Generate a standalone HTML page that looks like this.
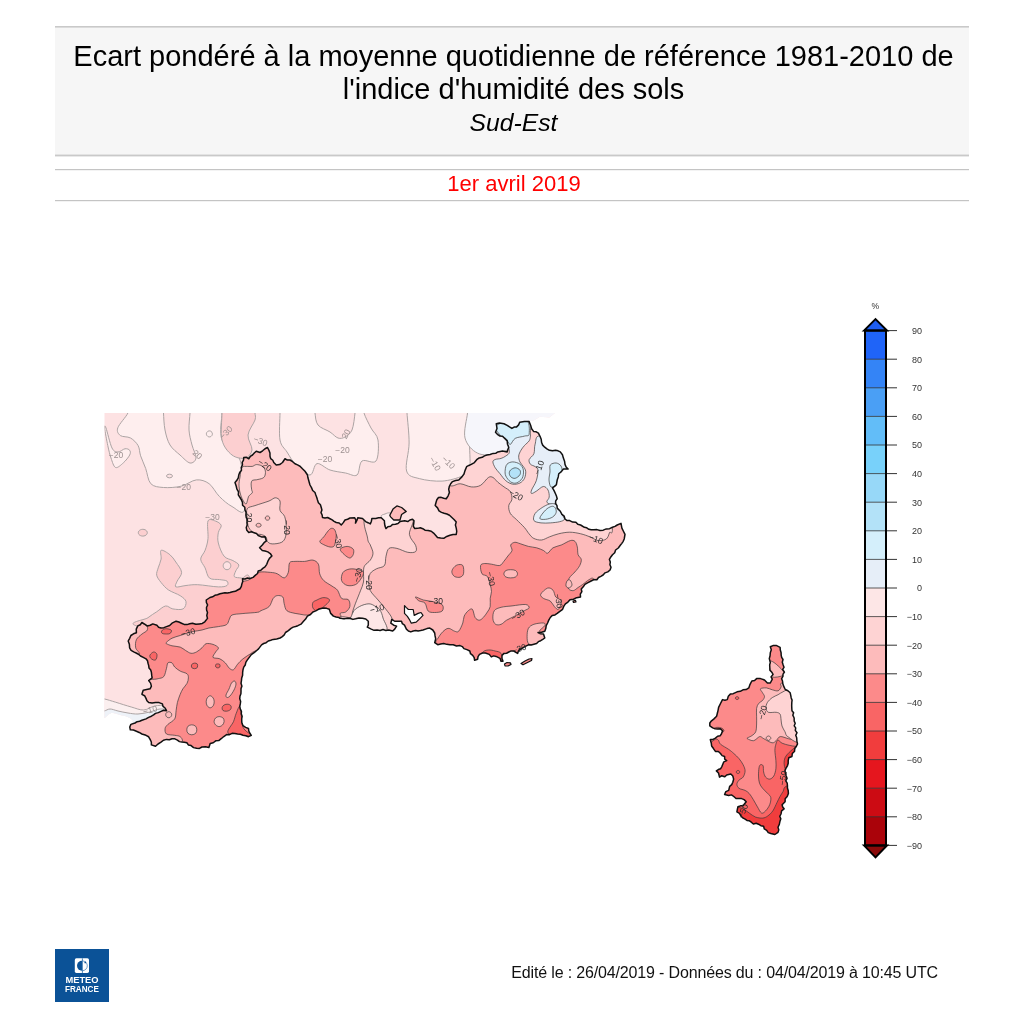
<!DOCTYPE html>
<html><head><meta charset="utf-8"><style>
html,body{margin:0;padding:0;background:#fff;width:1024px;height:1024px;overflow:hidden}
svg{display:block;font-family:"Liberation Sans",sans-serif;will-change:transform}
</style></head><body>
<svg width="1024" height="1024" viewBox="0 0 1024 1024">
<rect x="0" y="0" width="1024" height="1024" fill="#fff"/>
<rect x="55" y="27" width="914" height="128" fill="#f6f6f6"/>
<rect x="55" y="26" width="914" height="1.6" fill="#c9c9c9"/>
<rect x="55" y="154.6" width="914" height="1.8" fill="#c9c9c9"/>
<rect x="55" y="169" width="914" height="1.2" fill="#c4c4c4"/>
<rect x="55" y="200" width="914" height="1.2" fill="#c4c4c4"/>
<text x="513.5" y="65.8" text-anchor="middle" font-size="29" fill="#000">Ecart pondéré à la moyenne quotidienne de référence 1981-2010 de</text>
<text x="513.5" y="98.8" text-anchor="middle" font-size="29" fill="#000">l'indice d'humidité des sols</text>
<text x="513.5" y="131.2" text-anchor="middle" font-size="24.7" font-style="italic" fill="#000">Sud-Est</text>
<text x="514" y="191.2" text-anchor="middle" font-size="22" fill="#f00">1er avril 2019</text>
<defs><clipPath id="cm"><polygon points="130.9,724.4 135,723 137.13,721.66 139.63,721.27 141.9,720.3 146,718.9 148.6,717.34 151.4,716.2 153.56,714.95 155.5,713.4 158.33,712.61 161,711.4 163.65,710.27 166.5,710.7 165.1,708 163.02,706.43 162.4,703.9 159.07,702.6 155.5,702.5 152.1,702.93 148.7,702.5 146.95,700.71 146,698.4 144.58,695.72 141.9,694.3 143.2,690.2 146.64,689.45 150.1,688.8 151.4,686.1 150.59,683.08 148.7,680.6 152.1,677.9 151.71,675.16 151.4,672.4 150.73,670.04 149.02,668.1 148.7,665.6 148.03,663.24 147.52,660.82 146,658.8 143.27,657.36 140.5,656 138.46,654.26 136.13,653 133.7,651.9 131.1,650.4 129.6,647.8 129.36,644.31 128.2,641 129.7,638.32 130.9,635.5 133.49,633.83 136.4,632.8 136.27,629.18 137.8,625.9 140.27,624.71 141.9,622.5 144.63,624.16 147.3,625.9 150.18,625.27 152.8,623.9 156.9,625.3 158.57,627.22 161,628 163.85,627.67 166.5,626.6 169.65,625.54 172,623.2 176.1,621.2 178.87,622.02 181.5,623.2 184.12,624.42 187,624.6 189.73,623.8 192.5,623.2 195.82,624.33 199.3,623.9 202.29,623.49 204.8,621.8 207.5,618.4 206.78,615.45 207.5,612.5 206.6,610.07 206.49,607.55 207.58,604.92 206.39,602.51 206.25,600 210,597.5 212.58,596.78 214.87,595.29 217.5,594.7 220,593.75 222.47,593.23 224.97,592.86 227.52,592.96 230,592.5 232.55,591.7 235.26,591.31 237.62,589.99 240,588.75 241.37,586.44 241.87,583.91 242.73,581.46 242.5,578.75 245.01,578.97 247.48,577.98 250,578.5 253.09,577.35 255.5,575.1 257.55,573.51 258.2,571 260.84,570.26 262.8,568.37 265,566.9 266.74,564.32 267.8,561.4 269.44,558.39 271.9,556 270.27,553.53 267.8,551.9 265.08,551.07 262.3,550.5 259.6,547.8 262.3,545 264.08,542.68 266.4,540.9 265,536.8 261.45,536.92 258.2,535.5 256.51,533.57 254.1,532.7 251.46,531.72 248.75,532.5 246.84,530.33 246.25,527.5 247.2,525.09 246.92,522.47 247.5,520 246.27,517.65 245.89,515.09 246.09,512.38 245,510 244.8,507.29 242.55,505.26 242.5,502.5 241.43,499.91 240,497.5 238.29,494.95 238.5,491.75 236.9,489.16 236.25,486.25 235,482.5 236.86,480.31 238.27,477.89 238.75,475 239.7,472.5 241.47,470.32 241.24,467.38 242.5,465 242.17,462.37 243.51,460.03 243.75,457.5 246.45,457.31 248.75,458.75 250.24,456.49 252.5,455 254.26,453.01 256.25,451.25 260,452.5 262.62,450.78 265,448.75 267.5,447.5 268.93,450.25 269.96,453.11 270,456.25 270.68,458.67 272.79,460.24 273.75,462.5 276.25,465 279.68,464.52 282.5,462.5 285,458.75 287.33,460.07 290,460 292.63,461.7 295,463.75 297.53,464.94 300,466.25 302.47,468.78 305,471.25 307.5,475 307.87,477.56 308.58,480.04 309.27,482.53 310,485 311.49,487.62 312.67,490.44 315,492.5 315.82,495 316.78,497.46 317.5,500 318.4,502.68 320.42,504.79 321.25,507.5 321.92,509.96 321.02,512.61 322.15,515 322.5,517.5 324.99,518 327.64,517.47 330,518.75 332.16,519.87 334.09,521.37 336.25,522.5 339.14,522.98 341.25,525 343.29,522.63 345,520 347.59,519.22 350,518 354.7,517.7 355.88,520.28 355.5,523.1 356.86,520.49 357.8,517.7 362.5,518.4 365.6,521.6 367.98,522.7 370.3,523.9 371.41,521.24 371.9,518.4 375.8,518.4 378.49,517.79 381.25,517.7 384.4,520.8 384.53,523.47 384.98,526.08 385.9,528.6 387.87,526.66 390.6,526.25 392.6,524.38 395.44,524.21 398.02,523.51 400,521.6 404.7,520.8 407.8,521.6 409.95,520 412.5,519.2 414,520.8 413.73,523.54 413.3,526.25 414.8,528.6 417.57,528.37 420.3,527.8 422.8,528.71 425,530.2 428.17,530.48 431.25,531.25 433.57,533.09 435.58,535.25 437.5,537.5 440.6,538.07 443.75,538.3 446.72,536.43 450,535.2 453.1,534.58 456.25,534.4 456.74,531.25 456.25,528.1 455.4,525 456.25,521.9 454.01,519.46 451.6,517.2 449.49,515.25 446.9,514 444.14,513.29 441.45,512.4 439,510.9 437.55,507.89 435.2,505.5 436,502.5 436.83,499.79 438.5,497.5 441.17,497.36 443.69,498.22 446.25,498.75 448.14,495.79 449.4,492.5 448.68,489.38 449.4,486.25 450.68,483.75 452.5,481.6 455.55,480.51 458.75,480 461.9,476.9 463.99,474.02 465,470.6 466.6,466.7 468.88,465.45 471.25,464.4 474.39,462.53 476.7,459.7 479.21,457.95 482.2,457.3 484.42,455.89 486.9,455 490.07,454.46 493.1,453.4 495.66,453.31 497.8,451.9 502.5,451.1 507.2,451.9 507.89,449.52 508.75,447.2 507.49,444.17 507.2,440.9 504,437.8 502.5,436.25 499.94,436.12 497.8,434.7 495.5,432.3 497,428.4 496.25,423.75 499.4,423 504,423.75 507.2,425.3 509.52,426.89 511.9,428.4 514.08,427.12 516.6,426.9 518.61,424.85 519.7,422.2 524.4,421.4 529,421.4 530.6,425.3 531.63,428.72 533.75,431.6 536.25,431.81 538.4,433.1 540,436.25 541.19,439.28 541.6,442.5 542.69,445.15 544.7,447.2 546.91,448.96 549.4,450.3 552.5,450.85 555.6,450.3 558.04,450.84 560.3,451.9 562.45,454.7 563.4,458.1 564.56,461.16 565,464.4 566.11,467 568.1,469 563.4,469 561.37,471.66 558.75,473.75 558.24,476.94 557.2,480 556.4,484.7 554.54,486.37 552.5,487.8 554.18,490.84 555.6,494 556.55,496.32 557.2,498.75 555.68,500.83 555.6,503.4 556.99,505.55 557.2,508.1 560.3,511.25 561.9,514.4 564.19,516.2 565,519 567.09,520.56 569.7,520.6 572.63,522.06 575.9,522.2 577.8,524.35 580.6,525 584.4,527.3 586.77,527.79 588.87,529.28 591.22,529.85 593.75,529.7 596.94,529.6 600,530.5 603.23,530.13 606.25,528.9 609.53,528.69 612.5,527.3 614.98,526.41 617.2,525 621,523.4 621.9,528.1 623.42,531.27 625,534.4 624.2,539 623.22,541.3 621.84,543.35 620.3,545.3 618.3,548 615.6,550 614.7,552.78 612.5,554.7 610.82,556.96 609.4,559.4 610.31,561.92 609.92,564.71 611,567.2 610.08,570.01 607.8,571.9 605.05,572.84 603.1,575 600.82,576.29 598.51,577.53 596.9,579.7 593.58,579.78 590.6,581.25 587.5,582.8 584.91,584.36 583.24,586.83 581.25,589 581.87,591.72 580.31,594.22 580.5,596.9 576.6,597.7 573.47,599.27 570,599.7 567.94,602.02 565.4,603.8 563.74,606.42 562.6,609.3 559.87,611.31 557.2,613.4 554.98,614.9 552.2,615.45 550.3,617.5 548.77,620.16 547.6,623 546.2,625.7 545.78,628.52 544.8,631.2 541.48,632.29 538,632.5 540.59,633.83 543.5,633.9 544.8,638 542.77,639.38 540.7,640.7 538.36,641.68 536.6,643.5 533.91,644.2 531.22,644.9 528.4,644.8 525.42,646.35 522.5,648 518.6,650.5 517.6,653.4 513.7,651 511.14,650.94 508.8,652 506.57,653.27 504,653.4 502,655.4 501.98,658.41 503,661.25 501,661.25 500,658.3 496.1,656.4 493.62,655.89 491.3,656.9 489.3,654.4 485.4,653 482.5,653 479.5,654.4 478.04,656.65 477.6,659.3 474.6,660.3 474.19,657.64 472.7,655.4 470.51,653.69 469.8,651 466.94,649.59 463.9,648.6 462.35,646.58 460,645.6 456.51,646 453.2,644.8 449.98,644.77 446.81,644.35 443.7,643.5 440.69,644.05 437.7,644.7 434.7,642.7 435.7,638.8 435.06,635.92 434.7,633 432.8,630 429.8,628.1 426.9,628.6 423,630 420.56,630.55 418.1,631 415.65,630.5 413.2,631 410.8,631.9 408.4,631 406.4,629.1 404.5,625.2 402.36,623.71 401.5,621.25 398.6,621.25 394.7,621.25 391.8,619.3 390.8,623.2 393.7,625.2 396.6,626.1 394.7,629.1 392.7,631 388.8,630 385.85,630.44 383,629.55 380.1,630.45 377.1,630 374.06,630.32 371.25,629.1 367.3,627.1 368.3,625.2 368.3,621.25 365.79,619.01 362.5,618.3 359,617.91 355.6,618.8 352.95,619.38 350.4,618.46 347.8,618.3 345.2,618.63 342.6,618.63 340,618.3 338.9,617.5 336.08,617.06 333.4,616.1 330.7,613.4 329.3,609.3 326.62,608.34 323.8,607.9 321.06,608.45 318.4,609.3 315.76,610.87 312.9,612 310.48,614.5 307.4,616.1 305.6,619.03 303.3,621.6 301.01,624.19 297.9,625.7 295.56,626.51 293.16,627.14 291,628.4 288.38,630.62 285.5,632.5 284.24,634.86 282.31,636.57 280.1,638 276.7,638.92 273.2,639.4 270.75,640.25 268.25,640.98 266.16,642.67 263.7,643.5 261.57,644.87 260.04,646.84 258.54,648.84 256.7,650.5 254.14,652.73 251.3,654.6 249.26,657.35 247.2,660.1 245.82,662.35 245.23,664.96 243.73,667.16 243,669.7 242.64,672.44 242.59,675.24 241.7,677.9 241.46,680.62 241,683.33 241.94,686.12 241,688.8 241.02,691.32 240.9,693.84 239.97,696.32 239.75,698.83 240.64,701.39 240.3,703.9 239.82,706.47 240.25,708.95 241.43,711.36 241.3,713.89 242.14,716.34 241.7,718.9 241.8,722.41 243,725.7 245.62,727.36 248.5,728.5 248.79,731.03 249.88,733.23 251.3,735.3 248.5,736.7 245.82,735.71 243,735.3 240.4,734.24 237.6,734 234.86,733.54 232.1,733.3 229.51,734.65 226.6,734.6 223.8,736.52 221.2,738.7 218.77,740.58 215.7,740.8 213.23,742.73 210.2,743.5 208.9,747.6 205.49,746.81 202,747 199.49,748.45 196.6,748.3 193.53,747.61 191.1,745.6 188.51,745.11 186.87,742.72 184.3,742.2 181.83,742.05 179.45,741.62 177.4,740.1 174.85,738.8 172,738.7 169.34,739.73 166.5,739.4 163.47,740.25 161,742.2 158.06,744 155.5,746.3 151.4,744.9 151.34,742.01 150.1,739.4 148.63,736.77 146,735.3 141.9,734 139.21,732.47 136.4,731.2 133.47,729.98 130.3,729.8 129.77,727.01"/></clipPath><clipPath id="cc"><polygon points="770.3,646.8 773,645.6 776.2,645.4 780.1,647.3 780.31,650.05 781.1,652.7 781.17,655.12 781.68,657.42 783,659.5 782.28,662.24 783.1,664.77 784,667.3 782.66,669.45 784.45,672.06 783,674.2 782.92,676.47 781.61,678.66 782.5,681 782.9,684.04 784,686.9 785.27,689.53 787.9,690.8 790.15,692.78 790.8,695.7 791.21,697.96 792.07,700.14 791.8,702.5 791.69,705.45 791.8,708.4 791.96,710.69 793.62,712.76 792.8,715.2 794.16,717.99 794.2,721.1 795.22,723.25 794.22,725.85 795.7,727.9 795.32,730.41 797.01,732.72 795.74,735.32 796.7,737.7 796.9,741.2 797.51,743.83 796.4,746.3 794.79,748.56 794.45,751.54 792.3,753.5 791.97,756.46 788.79,757.79 788.2,760.6 788.21,763.19 787.52,765.58 786.2,767.8 785.04,770.53 785.31,773.27 786.2,776 787.03,778.33 785.77,780.95 787.2,783.2 787.44,785.61 787.44,788.06 788.2,790.4 788.4,793.56 787.2,796.5 785.17,798.7 785.1,801.7 782.1,804.7 782.69,806.95 784.1,808.8 781.59,810.83 781,814 779.73,816.27 780.81,818.87 780,821.2 779.32,824.35 778,827.3 778.8,829.85 778,832.4 774.9,834.5 770.8,833.5 768.24,832.63 766.7,830.4 764.32,828.98 763.6,826.3 760.87,825.69 758.5,824.2 756.17,823.29 753.38,824.02 751.3,822.2 749.42,820.78 746.99,820.48 745.1,819.1 742.77,817.91 741,816 739.49,813.41 736.9,811.9 737.35,809.34 737.9,806.8 740.42,805.87 743.1,805.8 744.61,803.72 746.2,801.7 744.1,799.6 741.64,798.62 739,798.6 736,798.54 733.8,796.5 731.47,794.88 728.7,795.5 724.6,794.5 725.84,791.64 728.7,790.4 729.7,786.3 731.73,784.61 732.8,782.2 733.63,779.1 732.8,776 730.8,774 726.7,775 724.62,776.81 721.71,775.74 719.5,777.1 718.5,773 716.4,770.9 718.3,769.56 720.5,768.8 721.72,766.84 722.6,764.7 723.82,761.82 726.7,760.6 724.68,759.05 724.6,756.5 722.1,755.62 720.5,753.5 718.37,751.44 715.4,751.4 713.3,748.3 711.62,746.02 711.3,743.2 710.3,739.6 713.02,739.44 715.4,738.1 717.6,736.2 720.1,735.85 721.5,733.75 722.5,730.8 720.43,728.86 717.6,728.9 715.08,728.77 712.7,727.9 709.8,725.9 709.8,723 711.5,720.8 713.7,719.1 716.6,716.2 717.6,712.3 718.16,709.86 718.6,707.4 720.5,703.5 722.5,699.6 724.9,700.26 727.3,699.6 728.3,696.2 730.32,694.11 733.2,693.7 737.1,691.8 740.24,691.36 743,689.8 746.12,689.53 748.8,687.9 749.8,684.9 751.8,681 754.59,680.57 756.6,678.6 760.5,678.6 764.5,680 767.4,683 770.3,683 772.3,679.1 771.02,676.88 773.03,674.42 771.8,672.2 769.89,670.12 769.8,667.3 769.67,664.86 770.3,662.5 769.3,658.6 770.06,655.69 770.3,652.7 771.3,649.75"/></clipPath></defs><polygon points="104.5,413 555,413 549.4,417.5 540,416.7 533.75,420.6 529,421.4 530,480 470,560 300,600 220,640 175,700 168,712 150,716 141.9,720.3 135,723 130.9,724.4 133,720.6 130,718 125,716 120,715 115.6,713.5 111.7,712.8 108.6,714.4 104.5,718.3" fill="#fde2e3" /><clipPath id="cf"><polygon points="104.5,413 555,413 549.4,417.5 540,416.7 533.75,420.6 529,421.4 530,480 470,560 300,600 220,640 175,700 168,712 150,716 141.9,720.3 135,723 130.9,724.4 133,720.6 130,718 125,716 120,715 115.6,713.5 111.7,712.8 108.6,714.4 104.5,718.3"/></clipPath><g clip-path="url(#cf)"><path d="M127.90,405.00C112.22,406.33 129.58,409.20 127.90,413.00C126.22,416.80 119.07,424.05 117.80,427.80C116.53,431.55 118.18,433.80 120.30,435.50C122.42,437.20 127.53,436.32 130.50,438.00C133.47,439.68 136.42,442.63 138.10,445.60C139.78,448.57 139.33,451.98 140.60,455.80C141.87,459.62 144.00,463.85 145.70,468.50C147.40,473.15 147.83,480.53 150.80,483.70C153.77,486.87 158.43,487.08 163.50,487.50C168.57,487.92 175.72,487.47 181.20,486.20C186.68,484.93 191.75,480.32 196.40,479.90C201.05,479.48 205.28,480.95 209.10,483.70C212.92,486.45 215.48,492.60 219.30,496.40C223.12,500.20 227.77,504.38 232.00,506.50C236.23,508.62 243.37,516.85 244.70,509.10C246.03,501.35 243.78,471.52 240.00,460.00C236.22,448.48 225.00,447.83 222.00,440.00C219.00,432.17 222.00,418.83 222.00,413.00C222.00,407.17 237.68,406.33 222.00,405.00C206.32,403.67 143.58,403.67 127.90,405.00Z" fill="#feeeee" stroke="#aba3a3" stroke-width="1.0" stroke-linejoin="round"/><path d="M280.00,405.00C266.00,406.33 280.00,407.17 280.00,413.00C280.00,418.83 278.83,433.50 280.00,440.00C281.17,446.50 284.33,447.83 287.00,452.00C289.67,456.17 292.17,461.17 296.00,465.00C299.83,468.83 306.50,475.23 310.00,475.00C313.50,474.77 313.67,464.43 317.00,463.60C320.33,462.77 325.25,468.43 330.00,470.00C334.75,471.57 341.00,472.17 345.50,473.00C350.00,473.83 354.25,477.00 357.00,475.00C359.75,473.00 358.83,463.33 362.00,461.00C365.17,458.67 373.33,464.50 376.00,461.00C378.67,457.50 378.83,445.50 378.00,440.00C377.17,434.50 373.33,432.50 371.00,428.00C368.67,423.50 365.17,416.83 364.00,413.00C362.83,409.17 378.00,406.33 364.00,405.00C350.00,403.67 294.00,403.67 280.00,405.00Z" fill="#feeeee" stroke="#aba3a3" stroke-width="1.0" stroke-linejoin="round"/><path d="M315.00,405.00C308.33,406.33 314.50,409.67 315.00,413.00C315.50,416.33 315.50,421.83 318.00,425.00C320.50,428.17 326.67,429.83 330.00,432.00C333.33,434.17 335.50,437.17 338.00,438.00C340.50,438.83 342.67,438.33 345.00,437.00C347.33,435.67 350.33,434.00 352.00,430.00C353.67,426.00 354.50,417.17 355.00,413.00C355.50,408.83 361.67,406.33 355.00,405.00C348.33,403.67 321.67,403.67 315.00,405.00Z" fill="#fde2e3" stroke="#aba3a3" stroke-width="1.0" stroke-linejoin="round"/><path d="M163.50,405.00C159.08,406.33 163.25,408.83 163.50,413.00C163.75,417.17 163.92,424.67 165.00,430.00C166.08,435.33 167.50,440.83 170.00,445.00C172.50,449.17 176.67,452.00 180.00,455.00C183.33,458.00 187.33,462.50 190.00,463.00C192.67,463.50 195.67,461.00 196.00,458.00C196.33,455.00 193.17,449.67 192.00,445.00C190.83,440.33 189.33,435.33 189.00,430.00C188.67,424.67 189.83,417.17 190.00,413.00C190.17,408.83 194.42,406.33 190.00,405.00C185.58,403.67 167.92,403.67 163.50,405.00Z" fill="#fde2e3" stroke="#aba3a3" stroke-width="1.0" stroke-linejoin="round"/><path d="M222.00,405.00C216.50,406.33 222.00,407.17 222.00,413.00C222.00,418.83 220.33,433.00 222.00,440.00C223.67,447.00 228.17,452.00 232.00,455.00C235.83,458.00 241.67,458.83 245.00,458.00C248.33,457.17 251.50,453.83 252.00,450.00C252.50,446.17 247.50,440.00 248.00,435.00C248.50,430.00 253.83,423.67 255.00,420.00C256.17,416.33 255.00,415.50 255.00,413.00C255.00,410.50 260.50,406.33 255.00,405.00C249.50,403.67 227.50,403.67 222.00,405.00Z" fill="#fccfd0" stroke="#aba3a3" stroke-width="1.0" stroke-linejoin="round"/><path d="M407.00,405.00C396.92,406.33 406.65,406.67 407.00,413.00C407.35,419.33 409.17,433.33 409.10,443.00C409.03,452.67 404.90,465.07 406.60,471.00C408.30,476.93 413.38,476.92 419.30,478.60C425.22,480.28 434.92,481.52 442.10,481.10C449.28,480.68 457.75,477.95 462.40,476.10C467.05,474.25 469.15,480.52 470.00,470.00C470.85,459.48 467.92,423.83 467.50,413.00C467.08,402.17 477.58,406.33 467.50,405.00C457.42,403.67 417.08,403.67 407.00,405.00Z" fill="#feeeee" stroke="#aba3a3" stroke-width="1.0" stroke-linejoin="round"/><path d="M161.10,550.30C162.57,549.57 167.45,552.75 169.90,554.70C172.35,556.65 173.85,559.07 175.80,562.00C177.75,564.93 181.37,569.12 181.60,572.30C181.83,575.48 178.17,578.67 177.20,581.10C176.23,583.53 174.33,586.17 175.80,586.90C177.27,587.63 182.35,585.87 186.00,585.50C189.65,585.13 192.32,584.47 197.70,584.70C203.08,584.93 213.42,586.77 218.30,586.90C223.18,587.03 225.55,586.47 227.00,585.50C228.45,584.53 228.22,582.08 227.00,581.10C225.78,580.12 222.62,580.10 219.70,579.60C216.78,579.10 211.93,580.05 209.50,578.10C207.07,576.15 206.57,571.07 205.10,567.90C203.63,564.73 200.70,562.03 200.70,559.10C200.70,556.17 203.88,553.72 205.10,550.30C206.32,546.88 207.52,543.48 208.00,538.60C208.48,533.72 206.78,523.93 208.00,521.00C209.22,518.07 213.10,520.27 215.30,521.00C217.50,521.73 220.70,523.45 221.20,525.40C221.70,527.35 218.78,529.77 218.30,532.70C217.82,535.63 217.33,539.08 218.30,543.00C219.27,546.92 221.67,553.27 224.10,556.20C226.53,559.13 230.45,559.13 232.90,560.60C235.35,562.07 238.32,563.30 238.80,565.00C239.28,566.70 236.53,568.85 235.80,570.80C235.07,572.75 233.42,575.48 234.40,576.70C235.38,577.92 239.10,577.55 241.70,578.10C244.30,578.65 248.62,569.68 250.00,580.00C251.38,590.32 268.47,632.25 250.00,640.00C231.53,647.75 156.20,630.22 139.20,626.50C122.20,622.78 145.08,620.15 148.00,617.70C150.92,615.25 153.78,613.75 156.70,611.80C159.62,609.85 162.82,606.48 165.50,606.00C168.18,605.52 169.87,608.42 172.80,608.90C175.73,609.38 180.90,610.12 183.10,608.90C185.30,607.68 186.48,603.80 186.00,601.60C185.52,599.40 183.13,597.65 180.20,595.70C177.27,593.75 171.58,592.10 168.40,589.90C165.22,587.70 163.05,584.95 161.10,582.50C159.15,580.05 157.18,577.63 156.70,575.20C156.22,572.77 157.47,570.58 158.20,567.90C158.93,565.22 160.62,562.03 161.10,559.10C161.58,556.17 159.63,551.03 161.10,550.30Z" fill="#fccfd0" stroke="#aba3a3" stroke-width="1.0" stroke-linejoin="round"/><path d="M230.80,565.70C230.80,566.37 230.61,567.12 230.29,567.70C229.97,568.28 229.45,568.83 228.90,569.16C228.35,569.49 227.63,569.70 227.00,569.70C226.37,569.70 225.65,569.49 225.10,569.16C224.55,568.83 224.03,568.28 223.71,567.70C223.39,567.12 223.20,566.37 223.20,565.70C223.20,565.03 223.39,564.28 223.71,563.70C224.03,563.12 224.55,562.57 225.10,562.24C225.65,561.91 226.37,561.70 227.00,561.70C227.63,561.70 228.35,561.91 228.90,562.24C229.45,562.57 229.97,563.12 230.29,563.70C230.61,564.28 230.80,565.03 230.80,565.70Z" fill="#fde2e3" stroke="#aba3a3" stroke-width="1.0" stroke-linejoin="round"/><path d="M147.30,532.70C147.30,533.27 147.07,533.91 146.70,534.40C146.32,534.89 145.70,535.36 145.05,535.64C144.40,535.92 143.55,536.10 142.80,536.10C142.05,536.10 141.20,535.92 140.55,535.64C139.90,535.36 139.28,534.89 138.90,534.40C138.53,533.91 138.30,533.27 138.30,532.70C138.30,532.13 138.53,531.49 138.90,531.00C139.28,530.51 139.90,530.04 140.55,529.76C141.20,529.48 142.05,529.30 142.80,529.30C143.55,529.30 144.40,529.48 145.05,529.76C145.70,530.04 146.32,530.51 146.70,531.00C147.07,531.49 147.30,532.13 147.30,532.70Z" fill="#fccfd0" stroke="#aba3a3" stroke-width="1.0" stroke-linejoin="round"/><path d="M212.40,433.90C212.40,434.40 212.25,434.97 212.00,435.40C211.75,435.83 211.33,436.25 210.90,436.50C210.47,436.75 209.90,436.90 209.40,436.90C208.90,436.90 208.33,436.75 207.90,436.50C207.47,436.25 207.05,435.83 206.80,435.40C206.55,434.97 206.40,434.40 206.40,433.90C206.40,433.40 206.55,432.83 206.80,432.40C207.05,431.97 207.47,431.55 207.90,431.30C208.33,431.05 208.90,430.90 209.40,430.90C209.90,430.90 210.47,431.05 210.90,431.30C211.33,431.55 211.75,431.97 212.00,432.40C212.25,432.83 212.40,433.40 212.40,433.90Z" fill="#feeeee" stroke="#aba3a3" stroke-width="1.0" stroke-linejoin="round"/><path d="M172.50,476.00C172.50,476.30 172.35,476.64 172.10,476.90C171.85,477.16 171.43,477.41 171.00,477.56C170.57,477.71 170.00,477.80 169.50,477.80C169.00,477.80 168.43,477.71 168.00,477.56C167.57,477.41 167.15,477.16 166.90,476.90C166.65,476.64 166.50,476.30 166.50,476.00C166.50,475.70 166.65,475.36 166.90,475.10C167.15,474.84 167.57,474.59 168.00,474.44C168.43,474.29 169.00,474.20 169.50,474.20C170.00,474.20 170.57,474.29 171.00,474.44C171.43,474.59 171.85,474.84 172.10,475.10C172.35,475.36 172.50,475.70 172.50,476.00Z" fill="#fde2e3" stroke="#aba3a3" stroke-width="1.0" stroke-linejoin="round"/><path d="M381.00,517.00C381.00,514.50 383.50,514.67 385.00,514.00C386.50,513.33 388.17,512.50 390.00,513.00C391.83,513.50 394.33,515.67 396.00,517.00C397.67,518.33 400.67,519.33 400.00,521.00C399.33,522.67 394.50,525.67 392.00,527.00C389.50,528.33 386.83,530.67 385.00,529.00C383.17,527.33 381.00,519.50 381.00,517.00Z" fill="#feeeee" stroke="#aba3a3" stroke-width="1.0" stroke-linejoin="round"/><path d="M104.70,428.40C105.00,431.33 106.75,440.67 107.80,445.60C108.85,450.53 109.70,454.35 111.00,458.00C112.30,461.65 113.53,466.70 115.60,467.50C117.67,468.30 121.05,464.88 123.40,462.80C125.75,460.72 128.65,457.08 129.70,455.00C130.75,452.92 130.48,451.34 129.70,450.30C128.92,449.26 126.95,448.47 125.00,448.75C123.05,449.03 120.17,452.12 118.00,452.00C115.83,451.88 114.00,452.00 112.00,448.00C110.00,444.00 107.22,431.27 106.00,428.00C104.78,424.73 104.40,425.47 104.70,428.40Z" fill="#feeeee" stroke="#aba3a3" stroke-width="1.0" stroke-linejoin="round"/><path d="M467.50,405.00C449.58,406.33 467.92,407.50 467.50,413.00C467.08,418.50 463.30,431.30 465.00,438.00C466.70,444.70 472.20,450.67 477.70,453.20C483.20,455.73 489.28,455.40 498.00,453.20C506.72,451.00 519.67,444.70 530.00,440.00C540.33,435.30 552.50,430.83 560.00,425.00C567.50,419.17 590.42,408.33 575.00,405.00C559.58,401.67 485.42,403.67 467.50,405.00Z" fill="#f6f6fb" stroke="#aba3a3" stroke-width="1.0" stroke-linejoin="round"/><path d="M98.00,698.00C99.12,692.83 101.77,698.30 104.70,699.00C107.63,699.70 111.17,700.87 115.60,702.20C120.02,703.53 126.56,705.70 131.25,707.00C135.94,708.30 139.84,710.17 143.75,710.00C147.66,709.83 151.06,706.67 154.70,706.00C158.34,705.33 162.72,705.00 165.60,706.00C168.48,707.00 174.60,710.00 172.00,712.00C169.40,714.00 155.33,715.00 150.00,718.00C144.67,721.00 148.67,728.00 140.00,730.00C131.33,732.00 105.00,735.33 98.00,730.00C91.00,724.67 96.88,703.17 98.00,698.00Z" fill="#fbefef" stroke="#aba3a3" stroke-width="1.0" stroke-linejoin="round"/><path d="M98.00,710.00C99.00,706.83 102.00,711.17 104.00,711.00C106.00,710.83 107.67,709.00 110.00,709.00C112.33,709.00 115.00,710.33 118.00,711.00C121.00,711.67 124.67,712.50 128.00,713.00C131.33,713.50 134.33,714.17 138.00,714.00C141.67,713.83 146.33,712.83 150.00,712.00C153.67,711.17 156.67,709.17 160.00,709.00C163.33,708.83 171.67,709.50 170.00,711.00C168.33,712.50 155.00,714.83 150.00,718.00C145.00,721.17 148.67,728.00 140.00,730.00C131.33,732.00 105.00,733.33 98.00,730.00C91.00,726.67 97.00,713.17 98.00,710.00Z" fill="#eef2f8" stroke="#aba3a3" stroke-width="1.0" stroke-linejoin="round"/></g><g clip-path="url(#cm)"><polygon points="130.9,724.4 135,723 137.13,721.66 139.63,721.27 141.9,720.3 146,718.9 148.6,717.34 151.4,716.2 153.56,714.95 155.5,713.4 158.33,712.61 161,711.4 163.65,710.27 166.5,710.7 165.1,708 163.02,706.43 162.4,703.9 159.07,702.6 155.5,702.5 152.1,702.93 148.7,702.5 146.95,700.71 146,698.4 144.58,695.72 141.9,694.3 143.2,690.2 146.64,689.45 150.1,688.8 151.4,686.1 150.59,683.08 148.7,680.6 152.1,677.9 151.71,675.16 151.4,672.4 150.73,670.04 149.02,668.1 148.7,665.6 148.03,663.24 147.52,660.82 146,658.8 143.27,657.36 140.5,656 138.46,654.26 136.13,653 133.7,651.9 131.1,650.4 129.6,647.8 129.36,644.31 128.2,641 129.7,638.32 130.9,635.5 133.49,633.83 136.4,632.8 136.27,629.18 137.8,625.9 140.27,624.71 141.9,622.5 144.63,624.16 147.3,625.9 150.18,625.27 152.8,623.9 156.9,625.3 158.57,627.22 161,628 163.85,627.67 166.5,626.6 169.65,625.54 172,623.2 176.1,621.2 178.87,622.02 181.5,623.2 184.12,624.42 187,624.6 189.73,623.8 192.5,623.2 195.82,624.33 199.3,623.9 202.29,623.49 204.8,621.8 207.5,618.4 206.78,615.45 207.5,612.5 206.6,610.07 206.49,607.55 207.58,604.92 206.39,602.51 206.25,600 210,597.5 212.58,596.78 214.87,595.29 217.5,594.7 220,593.75 222.47,593.23 224.97,592.86 227.52,592.96 230,592.5 232.55,591.7 235.26,591.31 237.62,589.99 240,588.75 241.37,586.44 241.87,583.91 242.73,581.46 242.5,578.75 245.01,578.97 247.48,577.98 250,578.5 253.09,577.35 255.5,575.1 257.55,573.51 258.2,571 260.84,570.26 262.8,568.37 265,566.9 266.74,564.32 267.8,561.4 269.44,558.39 271.9,556 270.27,553.53 267.8,551.9 265.08,551.07 262.3,550.5 259.6,547.8 262.3,545 264.08,542.68 266.4,540.9 265,536.8 261.45,536.92 258.2,535.5 256.51,533.57 254.1,532.7 251.46,531.72 248.75,532.5 246.84,530.33 246.25,527.5 247.2,525.09 246.92,522.47 247.5,520 246.27,517.65 245.89,515.09 246.09,512.38 245,510 244.8,507.29 242.55,505.26 242.5,502.5 241.43,499.91 240,497.5 238.29,494.95 238.5,491.75 236.9,489.16 236.25,486.25 235,482.5 236.86,480.31 238.27,477.89 238.75,475 239.7,472.5 241.47,470.32 241.24,467.38 242.5,465 242.17,462.37 243.51,460.03 243.75,457.5 246.45,457.31 248.75,458.75 250.24,456.49 252.5,455 254.26,453.01 256.25,451.25 260,452.5 262.62,450.78 265,448.75 267.5,447.5 268.93,450.25 269.96,453.11 270,456.25 270.68,458.67 272.79,460.24 273.75,462.5 276.25,465 279.68,464.52 282.5,462.5 285,458.75 287.33,460.07 290,460 292.63,461.7 295,463.75 297.53,464.94 300,466.25 302.47,468.78 305,471.25 307.5,475 307.87,477.56 308.58,480.04 309.27,482.53 310,485 311.49,487.62 312.67,490.44 315,492.5 315.82,495 316.78,497.46 317.5,500 318.4,502.68 320.42,504.79 321.25,507.5 321.92,509.96 321.02,512.61 322.15,515 322.5,517.5 324.99,518 327.64,517.47 330,518.75 332.16,519.87 334.09,521.37 336.25,522.5 339.14,522.98 341.25,525 343.29,522.63 345,520 347.59,519.22 350,518 354.7,517.7 355.88,520.28 355.5,523.1 356.86,520.49 357.8,517.7 362.5,518.4 365.6,521.6 367.98,522.7 370.3,523.9 371.41,521.24 371.9,518.4 375.8,518.4 378.49,517.79 381.25,517.7 384.4,520.8 384.53,523.47 384.98,526.08 385.9,528.6 387.87,526.66 390.6,526.25 392.6,524.38 395.44,524.21 398.02,523.51 400,521.6 404.7,520.8 407.8,521.6 409.95,520 412.5,519.2 414,520.8 413.73,523.54 413.3,526.25 414.8,528.6 417.57,528.37 420.3,527.8 422.8,528.71 425,530.2 428.17,530.48 431.25,531.25 433.57,533.09 435.58,535.25 437.5,537.5 440.6,538.07 443.75,538.3 446.72,536.43 450,535.2 453.1,534.58 456.25,534.4 456.74,531.25 456.25,528.1 455.4,525 456.25,521.9 454.01,519.46 451.6,517.2 449.49,515.25 446.9,514 444.14,513.29 441.45,512.4 439,510.9 437.55,507.89 435.2,505.5 436,502.5 436.83,499.79 438.5,497.5 441.17,497.36 443.69,498.22 446.25,498.75 448.14,495.79 449.4,492.5 448.68,489.38 449.4,486.25 450.68,483.75 452.5,481.6 455.55,480.51 458.75,480 461.9,476.9 463.99,474.02 465,470.6 466.6,466.7 468.88,465.45 471.25,464.4 474.39,462.53 476.7,459.7 479.21,457.95 482.2,457.3 484.42,455.89 486.9,455 490.07,454.46 493.1,453.4 495.66,453.31 497.8,451.9 502.5,451.1 507.2,451.9 507.89,449.52 508.75,447.2 507.49,444.17 507.2,440.9 504,437.8 502.5,436.25 499.94,436.12 497.8,434.7 495.5,432.3 497,428.4 496.25,423.75 499.4,423 504,423.75 507.2,425.3 509.52,426.89 511.9,428.4 514.08,427.12 516.6,426.9 518.61,424.85 519.7,422.2 524.4,421.4 529,421.4 530.6,425.3 531.63,428.72 533.75,431.6 536.25,431.81 538.4,433.1 540,436.25 541.19,439.28 541.6,442.5 542.69,445.15 544.7,447.2 546.91,448.96 549.4,450.3 552.5,450.85 555.6,450.3 558.04,450.84 560.3,451.9 562.45,454.7 563.4,458.1 564.56,461.16 565,464.4 566.11,467 568.1,469 563.4,469 561.37,471.66 558.75,473.75 558.24,476.94 557.2,480 556.4,484.7 554.54,486.37 552.5,487.8 554.18,490.84 555.6,494 556.55,496.32 557.2,498.75 555.68,500.83 555.6,503.4 556.99,505.55 557.2,508.1 560.3,511.25 561.9,514.4 564.19,516.2 565,519 567.09,520.56 569.7,520.6 572.63,522.06 575.9,522.2 577.8,524.35 580.6,525 584.4,527.3 586.77,527.79 588.87,529.28 591.22,529.85 593.75,529.7 596.94,529.6 600,530.5 603.23,530.13 606.25,528.9 609.53,528.69 612.5,527.3 614.98,526.41 617.2,525 621,523.4 621.9,528.1 623.42,531.27 625,534.4 624.2,539 623.22,541.3 621.84,543.35 620.3,545.3 618.3,548 615.6,550 614.7,552.78 612.5,554.7 610.82,556.96 609.4,559.4 610.31,561.92 609.92,564.71 611,567.2 610.08,570.01 607.8,571.9 605.05,572.84 603.1,575 600.82,576.29 598.51,577.53 596.9,579.7 593.58,579.78 590.6,581.25 587.5,582.8 584.91,584.36 583.24,586.83 581.25,589 581.87,591.72 580.31,594.22 580.5,596.9 576.6,597.7 573.47,599.27 570,599.7 567.94,602.02 565.4,603.8 563.74,606.42 562.6,609.3 559.87,611.31 557.2,613.4 554.98,614.9 552.2,615.45 550.3,617.5 548.77,620.16 547.6,623 546.2,625.7 545.78,628.52 544.8,631.2 541.48,632.29 538,632.5 540.59,633.83 543.5,633.9 544.8,638 542.77,639.38 540.7,640.7 538.36,641.68 536.6,643.5 533.91,644.2 531.22,644.9 528.4,644.8 525.42,646.35 522.5,648 518.6,650.5 517.6,653.4 513.7,651 511.14,650.94 508.8,652 506.57,653.27 504,653.4 502,655.4 501.98,658.41 503,661.25 501,661.25 500,658.3 496.1,656.4 493.62,655.89 491.3,656.9 489.3,654.4 485.4,653 482.5,653 479.5,654.4 478.04,656.65 477.6,659.3 474.6,660.3 474.19,657.64 472.7,655.4 470.51,653.69 469.8,651 466.94,649.59 463.9,648.6 462.35,646.58 460,645.6 456.51,646 453.2,644.8 449.98,644.77 446.81,644.35 443.7,643.5 440.69,644.05 437.7,644.7 434.7,642.7 435.7,638.8 435.06,635.92 434.7,633 432.8,630 429.8,628.1 426.9,628.6 423,630 420.56,630.55 418.1,631 415.65,630.5 413.2,631 410.8,631.9 408.4,631 406.4,629.1 404.5,625.2 402.36,623.71 401.5,621.25 398.6,621.25 394.7,621.25 391.8,619.3 390.8,623.2 393.7,625.2 396.6,626.1 394.7,629.1 392.7,631 388.8,630 385.85,630.44 383,629.55 380.1,630.45 377.1,630 374.06,630.32 371.25,629.1 367.3,627.1 368.3,625.2 368.3,621.25 365.79,619.01 362.5,618.3 359,617.91 355.6,618.8 352.95,619.38 350.4,618.46 347.8,618.3 345.2,618.63 342.6,618.63 340,618.3 338.9,617.5 336.08,617.06 333.4,616.1 330.7,613.4 329.3,609.3 326.62,608.34 323.8,607.9 321.06,608.45 318.4,609.3 315.76,610.87 312.9,612 310.48,614.5 307.4,616.1 305.6,619.03 303.3,621.6 301.01,624.19 297.9,625.7 295.56,626.51 293.16,627.14 291,628.4 288.38,630.62 285.5,632.5 284.24,634.86 282.31,636.57 280.1,638 276.7,638.92 273.2,639.4 270.75,640.25 268.25,640.98 266.16,642.67 263.7,643.5 261.57,644.87 260.04,646.84 258.54,648.84 256.7,650.5 254.14,652.73 251.3,654.6 249.26,657.35 247.2,660.1 245.82,662.35 245.23,664.96 243.73,667.16 243,669.7 242.64,672.44 242.59,675.24 241.7,677.9 241.46,680.62 241,683.33 241.94,686.12 241,688.8 241.02,691.32 240.9,693.84 239.97,696.32 239.75,698.83 240.64,701.39 240.3,703.9 239.82,706.47 240.25,708.95 241.43,711.36 241.3,713.89 242.14,716.34 241.7,718.9 241.8,722.41 243,725.7 245.62,727.36 248.5,728.5 248.79,731.03 249.88,733.23 251.3,735.3 248.5,736.7 245.82,735.71 243,735.3 240.4,734.24 237.6,734 234.86,733.54 232.1,733.3 229.51,734.65 226.6,734.6 223.8,736.52 221.2,738.7 218.77,740.58 215.7,740.8 213.23,742.73 210.2,743.5 208.9,747.6 205.49,746.81 202,747 199.49,748.45 196.6,748.3 193.53,747.61 191.1,745.6 188.51,745.11 186.87,742.72 184.3,742.2 181.83,742.05 179.45,741.62 177.4,740.1 174.85,738.8 172,738.7 169.34,739.73 166.5,739.4 163.47,740.25 161,742.2 158.06,744 155.5,746.3 151.4,744.9 151.34,742.01 150.1,739.4 148.63,736.77 146,735.3 141.9,734 139.21,732.47 136.4,731.2 133.47,729.98 130.3,729.8 129.77,727.01" fill="#fdbbbb" /><path d="M120.00,600.00C137.67,569.67 186.00,591.00 206.00,588.00C226.00,585.00 232.67,583.47 240.00,582.00C247.33,580.53 246.97,580.80 250.00,579.20C253.03,577.60 254.78,573.53 258.20,572.40C261.62,571.27 267.32,572.17 270.50,572.40C273.68,572.63 275.02,572.88 277.30,573.80C279.58,574.72 282.37,578.13 284.20,577.90C286.03,577.67 287.40,574.92 288.30,572.40C289.20,569.88 288.47,564.63 289.60,562.80C290.73,560.97 292.58,561.63 295.10,561.40C297.62,561.17 301.73,561.62 304.70,561.40C307.67,561.18 310.62,559.63 312.90,560.10C315.18,560.57 317.27,561.92 318.40,564.20C319.53,566.48 318.80,571.07 319.70,573.80C320.60,576.53 321.75,578.55 323.80,580.60C325.85,582.65 329.72,584.50 332.00,586.10C334.28,587.70 335.90,588.15 337.50,590.20C339.10,592.25 339.78,596.82 341.60,598.40C343.42,599.98 347.03,598.33 348.40,599.70C349.77,601.07 350.25,604.55 349.80,606.60C349.35,608.65 347.30,610.87 345.70,612.00C344.10,613.13 341.57,612.07 340.20,613.40C338.83,614.73 344.20,615.57 337.50,620.00C330.80,624.43 314.58,615.00 300.00,640.00C285.42,665.00 283.33,748.33 250.00,770.00C216.67,791.67 121.67,798.33 100.00,770.00C78.33,741.67 102.33,630.33 120.00,600.00Z" fill="#fc8a8a" stroke="#3a3a3a" stroke-width="0.7" stroke-linejoin="round"/><path d="M125.00,618.00C128.27,612.43 140.88,622.60 144.60,624.60C148.32,626.60 147.75,628.42 147.30,630.00C146.85,631.58 143.72,632.50 141.90,634.10C140.08,635.70 137.43,637.32 136.40,639.60C135.37,641.88 135.25,645.30 135.70,647.80C136.15,650.30 140.88,652.90 139.10,654.60C137.32,656.30 127.35,664.10 125.00,658.00C122.65,651.90 121.73,623.57 125.00,618.00Z" fill="#fdbbbb" stroke="#3a3a3a" stroke-width="0.7" stroke-linejoin="round"/><path d="M166.50,642.30C167.42,641.38 169.72,639.33 172.00,638.20C174.28,637.07 177.47,636.40 180.20,635.50C182.93,634.60 186.13,633.48 188.40,632.80C190.67,632.12 191.53,631.87 193.80,631.40C196.07,630.93 199.48,630.57 202.00,630.00C204.52,629.43 206.17,628.57 208.90,628.00C211.63,627.43 215.45,627.17 218.40,626.60C221.35,626.03 224.77,625.85 226.60,624.60C228.43,623.35 228.48,620.70 229.40,619.10C230.32,617.50 229.98,615.92 232.10,615.00C234.22,614.08 237.88,614.05 242.10,613.60C246.32,613.15 254.27,612.78 257.40,612.30C260.53,611.82 258.95,611.65 260.90,610.70C262.85,609.75 267.05,608.65 269.10,606.60C271.15,604.55 271.83,600.23 273.20,598.40C274.57,596.57 275.70,595.83 277.30,595.60C278.90,595.37 281.65,595.63 282.80,597.00C283.95,598.37 283.52,601.52 284.20,603.80C284.88,606.08 285.08,609.10 286.90,610.70C288.72,612.30 292.37,612.72 295.10,613.40C297.83,614.08 300.82,614.03 303.30,614.80C305.78,615.57 312.22,613.80 310.00,618.00C307.78,622.20 298.88,634.58 290.00,640.00C281.12,645.42 263.15,648.28 256.70,650.50C250.25,652.72 253.58,651.92 251.30,653.30C249.02,654.68 245.28,656.98 243.00,658.80C240.72,660.62 239.18,662.38 237.60,664.20C236.02,666.02 234.87,669.02 233.50,669.70C232.13,670.38 230.77,669.43 229.40,668.30C228.03,667.17 226.90,664.48 225.30,662.90C223.70,661.32 221.85,659.72 219.80,658.80C217.75,657.88 213.68,658.55 213.00,657.40C212.32,656.25 214.80,653.50 215.70,651.90C216.60,650.30 218.85,649.05 218.40,647.80C217.95,646.55 215.05,645.08 213.00,644.40C210.95,643.72 207.93,643.13 206.10,643.70C204.27,644.27 203.58,646.43 202.00,647.80C200.42,649.17 198.42,650.98 196.60,651.90C194.78,652.82 192.93,653.53 191.10,653.30C189.27,653.07 187.42,651.53 185.60,650.50C183.78,649.47 182.47,647.88 180.20,647.10C177.93,646.32 174.28,646.37 172.00,645.80C169.72,645.23 167.42,644.28 166.50,643.70C165.58,643.12 165.58,643.22 166.50,642.30Z" fill="#fdbbbb" stroke="#3a3a3a" stroke-width="0.7" stroke-linejoin="round"/><path d="M140.00,679.00C145.47,679.05 149.75,679.37 152.80,679.30C155.85,679.23 156.47,679.07 158.30,678.60C160.13,678.13 162.43,678.22 163.80,676.50C165.17,674.78 165.82,670.57 166.50,668.30C167.18,666.03 166.98,663.80 167.90,662.90C168.82,662.00 170.87,662.22 172.00,662.90C173.13,663.58 173.33,665.63 174.70,667.00C176.07,668.37 178.15,669.97 180.20,671.10C182.25,672.23 185.63,672.67 187.00,673.80C188.37,674.93 188.40,676.30 188.40,677.90C188.40,679.50 187.92,681.58 187.00,683.40C186.08,685.22 184.03,686.98 182.90,688.80C181.77,690.62 181.12,692.02 180.20,694.30C179.28,696.58 178.08,699.77 177.40,702.50C176.72,705.23 176.55,707.97 176.10,710.70C175.65,713.43 176.07,716.62 174.70,718.90C173.33,721.18 169.50,722.80 167.90,724.40C166.30,726.00 165.33,726.90 165.10,728.50C164.87,730.10 164.90,732.87 166.50,734.00C168.10,735.13 172.42,734.85 174.70,735.30C176.98,735.75 178.83,735.55 180.20,736.70C181.57,737.85 182.10,738.32 182.90,742.20C183.70,746.08 195.48,757.03 185.00,760.00C174.52,762.97 130.83,773.50 120.00,760.00C109.17,746.50 116.67,692.50 120.00,679.00C123.33,665.50 134.53,678.95 140.00,679.00Z" fill="#fdbbbb" stroke="#3a3a3a" stroke-width="0.7" stroke-linejoin="round"/><path d="M210.20,695.80C211.20,695.80 212.53,697.00 213.20,698.00C213.87,699.00 214.20,700.50 214.20,701.80C214.20,703.10 213.87,704.80 213.20,705.80C212.53,706.80 211.20,707.80 210.20,707.80C209.20,707.80 207.87,706.80 207.20,705.80C206.53,704.80 206.20,703.10 206.20,701.80C206.20,700.50 206.53,699.00 207.20,698.00C207.87,697.00 209.20,695.80 210.20,695.80Z" fill="#fdbbbb" stroke="#3a3a3a" stroke-width="0.7" stroke-linejoin="round"/><path d="M219.10,716.60C220.37,716.60 222.27,717.17 223.10,718.00C223.93,718.83 224.20,720.43 224.10,721.60C224.00,722.77 223.33,724.17 222.50,725.00C221.67,725.83 220.23,726.60 219.10,726.60C217.97,726.60 216.53,725.83 215.70,725.00C214.87,724.17 214.13,722.77 214.10,721.60C214.07,720.43 214.67,718.83 215.50,718.00C216.33,717.17 217.83,716.60 219.10,716.60Z" fill="#fdbbbb" stroke="#3a3a3a" stroke-width="0.7" stroke-linejoin="round"/><path d="M191.80,724.80C193.07,724.80 194.77,725.37 195.60,726.20C196.43,727.03 196.80,728.60 196.80,729.80C196.80,731.00 196.43,732.57 195.60,733.40C194.77,734.23 193.07,734.80 191.80,734.80C190.53,734.80 188.83,734.23 188.00,733.40C187.17,732.57 186.80,731.00 186.80,729.80C186.80,728.60 187.17,727.03 188.00,726.20C188.83,725.37 190.53,724.80 191.80,724.80Z" fill="#fdbbbb" stroke="#3a3a3a" stroke-width="0.7" stroke-linejoin="round"/><path d="M234.50,681.00C235.25,681.17 236.08,682.50 236.00,684.00C235.92,685.50 235.00,688.00 234.00,690.00C233.00,692.00 231.17,694.75 230.00,696.00C228.83,697.25 227.67,697.67 227.00,697.50C226.33,697.33 225.67,696.42 226.00,695.00C226.33,693.58 228.08,691.00 229.00,689.00C229.92,687.00 230.58,684.33 231.50,683.00C232.42,681.67 233.75,680.83 234.50,681.00Z" fill="#fdbbbb" stroke="#3a3a3a" stroke-width="0.7" stroke-linejoin="round"/><path d="M171.70,714.70C171.70,715.20 171.55,715.77 171.30,716.20C171.05,716.63 170.63,717.05 170.20,717.30C169.77,717.55 169.20,717.70 168.70,717.70C168.20,717.70 167.63,717.55 167.20,717.30C166.77,717.05 166.35,716.63 166.10,716.20C165.85,715.77 165.70,715.20 165.70,714.70C165.70,714.20 165.85,713.63 166.10,713.20C166.35,712.77 166.77,712.35 167.20,712.10C167.63,711.85 168.20,711.70 168.70,711.70C169.20,711.70 169.77,711.85 170.20,712.10C170.63,712.35 171.05,712.77 171.30,713.20C171.55,713.63 171.70,714.20 171.70,714.70Z" fill="#fdbbbb" stroke="#3a3a3a" stroke-width="0.7" stroke-linejoin="round"/><path d="M153.50,652.00C154.58,651.75 155.92,652.83 156.50,653.50C157.08,654.17 157.08,655.00 157.00,656.00C156.92,657.00 156.58,658.83 156.00,659.50C155.42,660.17 154.42,660.25 153.50,660.00C152.58,659.75 151.08,658.83 150.50,658.00C149.92,657.17 149.50,656.00 150.00,655.00C150.50,654.00 152.42,652.25 153.50,652.00Z" fill="#f96565" stroke="#3a3a3a" stroke-width="0.7" stroke-linejoin="round"/><path d="M161.50,631.40C161.75,630.65 162.92,629.42 164.00,629.00C165.08,628.58 166.75,628.65 168.00,628.90C169.25,629.15 171.17,629.73 171.50,630.50C171.83,631.27 170.83,632.92 170.00,633.50C169.17,634.08 167.75,634.00 166.50,634.00C165.25,634.00 163.33,633.93 162.50,633.50C161.67,633.07 161.25,632.15 161.50,631.40Z" fill="#f96565" stroke="#3a3a3a" stroke-width="0.7" stroke-linejoin="round"/><path d="M194.50,663.10C195.43,663.02 196.83,663.27 197.30,664.00C197.77,664.73 197.77,666.72 197.30,667.50C196.83,668.28 195.43,668.70 194.50,668.70C193.57,668.70 192.17,668.20 191.70,667.50C191.23,666.80 191.23,665.23 191.70,664.50C192.17,663.77 193.57,663.18 194.50,663.10Z" fill="#f96565" stroke="#3a3a3a" stroke-width="0.7" stroke-linejoin="round"/><path d="M217.80,663.90C218.47,663.90 219.47,663.98 219.80,664.50C220.13,665.02 220.13,666.43 219.80,667.00C219.47,667.57 218.47,667.90 217.80,667.90C217.13,667.90 216.13,667.57 215.80,667.00C215.47,666.43 215.47,665.02 215.80,664.50C216.13,663.98 217.13,663.90 217.80,663.90Z" fill="#f96565" stroke="#3a3a3a" stroke-width="0.7" stroke-linejoin="round"/><path d="M222.10,707.70C222.27,706.78 223.02,705.58 224.00,705.00C224.98,704.42 226.83,704.03 228.00,704.20C229.17,704.37 230.58,705.12 231.00,706.00C231.42,706.88 231.23,708.63 230.50,709.50C229.77,710.37 227.85,711.03 226.60,711.20C225.35,711.37 223.75,711.08 223.00,710.50C222.25,709.92 221.93,708.62 222.10,707.70Z" fill="#f96565" stroke="#3a3a3a" stroke-width="0.7" stroke-linejoin="round"/><path d="M240.30,706.60C241.43,708.88 241.17,722.32 243.00,727.10C244.83,731.88 251.30,733.82 251.30,735.30C251.30,736.78 246.88,736.38 243.00,736.00C239.12,735.62 229.58,735.40 228.00,733.00C226.42,730.60 232.13,724.87 233.50,721.60C234.87,718.33 235.07,715.90 236.20,713.40C237.33,710.90 239.17,704.32 240.30,706.60Z" fill="#f96565" stroke="#3a3a3a" stroke-width="0.7" stroke-linejoin="round"/><path d="M312.90,602.50C313.58,601.18 315.40,600.80 317.00,600.00C318.60,599.20 320.68,597.97 322.50,597.70C324.32,597.43 326.77,597.83 327.90,598.40C329.03,598.97 329.98,599.73 329.30,601.10C328.62,602.47 325.85,605.00 323.80,606.60C321.75,608.20 318.82,610.48 317.00,610.70C315.18,610.92 313.58,609.27 312.90,607.90C312.22,606.53 312.22,603.82 312.90,602.50Z" fill="#f96565" stroke="#3a3a3a" stroke-width="0.7" stroke-linejoin="round"/><path d="M242.00,467.50C243.27,465.73 245.88,466.58 247.60,466.40C249.32,466.22 250.83,466.70 252.30,466.40C253.77,466.10 254.78,464.67 256.40,464.60C258.02,464.53 260.55,465.12 262.00,466.00C263.45,466.88 264.58,468.38 265.10,469.90C265.62,471.42 265.48,473.73 265.10,475.10C264.72,476.47 264.25,477.32 262.80,478.10C261.35,478.88 258.15,479.42 256.40,479.80C254.65,480.18 253.18,479.72 252.30,480.40C251.42,481.08 251.20,482.33 251.10,483.90C251.00,485.47 251.50,488.33 251.70,489.80C251.90,491.27 252.80,491.63 252.30,492.70C251.80,493.77 249.48,494.98 248.70,496.20C247.92,497.42 248.12,498.70 247.60,500.00C247.08,501.30 246.70,504.67 245.60,504.00C244.50,503.33 242.10,499.00 241.00,496.00C239.90,493.00 239.17,489.17 239.00,486.00C238.83,482.83 239.50,480.08 240.00,477.00C240.50,473.92 240.73,469.27 242.00,467.50Z" fill="#fed3d3" stroke="#3a3a3a" stroke-width="0.7" stroke-linejoin="round"/><path d="M247.20,508.75C248.50,506.68 251.37,506.89 255.00,505.60C258.63,504.31 265.62,502.30 269.00,501.00C272.38,499.70 273.47,497.80 275.30,497.80C277.13,497.80 279.22,498.92 280.00,501.00C280.78,503.08 279.22,507.70 280.00,510.30C280.78,512.90 283.66,513.73 284.70,516.60C285.74,519.47 286.12,524.12 286.25,527.50C286.38,530.88 286.27,534.43 285.50,536.90C284.73,539.37 283.82,541.13 281.60,542.30C279.38,543.47 274.55,544.02 272.20,543.90C269.85,543.78 268.53,542.77 267.50,541.60C266.47,540.43 267.04,538.08 266.00,536.90C264.96,535.72 263.08,535.02 261.25,534.50C259.42,533.98 257.08,534.92 255.00,533.75C252.92,532.58 250.05,530.12 248.75,527.50C247.45,524.88 247.46,521.12 247.20,518.00C246.94,514.88 245.90,510.82 247.20,508.75Z" fill="#fed3d3" stroke="#3a3a3a" stroke-width="0.7" stroke-linejoin="round"/><path d="M367.20,515.00C359.98,518.87 367.08,533.20 367.60,538.20C368.12,543.20 369.40,542.50 370.30,545.00C371.20,547.50 373.00,550.68 373.00,553.20C373.00,555.72 371.67,558.05 370.30,560.10C368.93,562.15 365.93,563.68 364.80,565.50C363.67,567.32 363.72,568.25 363.50,571.00C363.28,573.75 363.97,578.80 363.50,582.00C363.03,585.20 361.62,587.70 360.70,590.20C359.78,592.70 358.90,594.73 358.00,597.00C357.10,599.27 356.22,601.30 355.30,603.80C354.38,606.30 353.18,609.72 352.50,612.00C351.82,614.28 353.28,616.67 351.20,617.50C349.12,618.33 342.70,615.75 340.00,617.00C337.30,618.25 325.83,622.50 335.00,625.00C344.17,627.50 385.47,633.04 395.00,632.00C404.53,630.96 393.70,622.52 392.20,618.75C390.70,614.98 388.35,612.52 386.00,609.40C383.65,606.27 380.72,603.13 378.10,600.00C375.48,596.87 371.86,593.73 370.30,590.60C368.74,587.48 368.75,584.12 368.75,581.25C368.75,578.38 368.99,575.48 370.30,573.40C371.61,571.32 374.25,570.05 376.60,568.75C378.95,567.45 382.83,567.68 384.40,565.60C385.97,563.52 385.23,559.12 386.00,556.25C386.77,553.38 387.18,549.71 389.00,548.40C390.82,547.09 393.77,547.75 396.90,548.40C400.03,549.05 404.68,551.77 407.80,552.30C410.92,552.83 414.30,552.77 415.60,551.60C416.90,550.43 416.63,548.17 415.60,545.30C414.57,542.43 410.18,539.45 409.40,534.40C408.62,529.35 417.93,518.23 410.90,515.00C403.87,511.77 374.42,511.13 367.20,515.00Z" fill="#fed3d3" stroke="#3a3a3a" stroke-width="0.7" stroke-linejoin="round"/><path d="M352.50,613.40C354.07,609.17 356.65,608.20 359.40,606.60C362.15,605.00 366.27,603.80 369.00,603.80C371.73,603.80 373.97,605.57 375.80,606.60C377.63,607.63 378.80,608.10 380.00,610.00C381.20,611.90 382.17,614.33 383.00,618.00C383.83,621.67 390.50,629.67 385.00,632.00C379.50,634.33 355.42,635.10 350.00,632.00C344.58,628.90 350.93,617.63 352.50,613.40Z" fill="#fde6e6" stroke="#3a3a3a" stroke-width="0.7" stroke-linejoin="round"/><path d="M440.00,470.00C441.57,482.55 446.02,483.01 449.40,485.30C452.78,487.59 456.66,483.48 460.30,483.75C463.94,484.02 467.87,486.64 471.25,486.90C474.63,487.16 477.74,486.87 480.60,485.30C483.46,483.73 486.32,478.80 488.40,477.50C490.48,476.20 491.53,476.72 493.10,477.50C494.67,478.28 495.98,480.63 497.80,482.20C499.62,483.77 501.92,485.33 504.00,486.90C506.08,488.47 508.98,489.52 510.30,491.60C511.62,493.68 512.16,497.07 511.90,499.40C511.64,501.73 509.02,503.27 508.75,505.60C508.48,507.93 508.99,511.05 510.30,513.40C511.61,515.75 514.25,517.35 516.60,519.70C518.95,522.05 522.33,525.16 524.40,527.50C526.47,529.84 527.44,531.93 529.00,533.75C530.56,535.57 531.65,537.36 533.75,538.40C535.85,539.44 538.99,540.25 541.60,540.00C544.21,539.75 546.54,537.94 549.40,536.90C552.26,535.86 555.37,534.53 558.75,533.75C562.13,532.97 566.06,532.20 569.70,532.20C573.34,532.20 577.22,532.97 580.60,533.75C583.98,534.53 587.39,535.86 590.00,536.90C592.61,537.94 594.58,539.38 596.25,540.00C597.92,540.62 598.33,540.77 600.00,540.60C601.67,540.43 604.68,540.30 606.25,539.00C607.82,537.70 608.44,535.97 609.40,532.80C610.36,529.63 613.57,540.47 612.00,520.00C610.43,499.53 628.67,428.33 600.00,410.00C571.33,391.67 466.67,400.00 440.00,410.00C413.33,420.00 438.43,457.45 440.00,470.00Z" fill="#fed3d3" stroke="#3a3a3a" stroke-width="0.7" stroke-linejoin="round"/><path d="M492.90,461.90C492.90,460.52 493.83,460.08 495.20,459.50C496.57,458.92 499.33,458.98 501.10,458.40C502.87,457.82 504.43,456.98 505.80,456.00C507.17,455.02 508.92,454.25 509.30,452.50C509.68,450.75 508.68,447.45 508.10,445.50C507.52,443.55 506.58,442.17 505.80,440.80C505.02,439.43 504.77,438.08 503.40,437.30C502.03,436.52 498.97,436.88 497.60,436.10C496.23,435.32 495.40,433.97 495.20,432.60C495.00,431.23 496.00,429.47 496.40,427.90C496.80,426.33 495.33,424.85 497.60,423.20C499.87,421.55 504.43,418.87 510.00,418.00C515.57,417.13 527.60,415.97 531.00,418.00C534.40,420.03 530.50,427.18 530.40,430.20C530.30,433.22 530.60,434.33 530.40,436.10C530.20,437.87 530.18,439.23 529.20,440.80C528.22,442.37 525.87,443.93 524.50,445.50C523.13,447.07 521.97,448.45 521.00,450.20C520.03,451.95 518.88,454.05 518.70,456.00C518.52,457.95 519.12,460.13 519.90,461.90C520.68,463.67 522.43,465.03 523.40,466.60C524.37,468.17 525.52,469.35 525.70,471.30C525.88,473.25 525.47,476.35 524.50,478.30C523.53,480.25 521.85,482.02 519.90,483.00C517.95,483.98 515.15,484.58 512.80,484.20C510.45,483.82 507.95,482.47 505.80,480.70C503.65,478.93 501.67,475.75 499.90,473.60C498.13,471.45 496.37,469.75 495.20,467.80C494.03,465.85 492.90,463.28 492.90,461.90Z" fill="#e6eef8" stroke="#3a3a3a" stroke-width="0.7" stroke-linejoin="round"/><path d="M497.00,425.00C501.17,422.33 519.63,417.53 525.00,419.00C530.37,420.47 529.28,430.95 529.20,433.80C529.12,436.65 526.83,435.33 524.50,436.10C522.17,436.87 517.53,437.03 515.20,438.40C512.87,439.77 511.68,443.70 510.50,444.30C509.32,444.90 508.88,442.98 508.10,442.00C507.32,441.02 507.15,439.57 505.80,438.40C504.45,437.23 501.47,437.23 500.00,435.00C498.53,432.77 492.83,427.67 497.00,425.00Z" fill="#d4effb" stroke="#3a3a3a" stroke-width="0.7" stroke-linejoin="round"/><path d="M507.00,464.20C508.27,462.83 510.65,461.90 512.80,461.90C514.95,461.90 518.13,462.83 519.90,464.20C521.67,465.57 523.02,467.75 523.40,470.10C523.78,472.45 523.38,476.15 522.20,478.30C521.02,480.45 518.25,482.42 516.30,483.00C514.35,483.58 512.25,482.97 510.50,481.80C508.75,480.63 506.68,477.95 505.80,476.00C504.92,474.05 505.00,472.07 505.20,470.10C505.40,468.13 505.73,465.57 507.00,464.20Z" fill="#d4effb" stroke="#3a3a3a" stroke-width="0.7" stroke-linejoin="round"/><path d="M510.50,470.10C511.48,469.13 513.63,467.80 515.20,467.80C516.77,467.80 519.12,468.93 519.90,470.10C520.68,471.27 520.68,473.43 519.90,474.80C519.12,476.17 516.67,477.92 515.20,478.30C513.73,478.68 512.08,477.88 511.10,477.10C510.12,476.32 509.40,474.77 509.30,473.60C509.20,472.43 509.52,471.07 510.50,470.10Z" fill="#b3e2f8" stroke="#3a3a3a" stroke-width="0.7" stroke-linejoin="round"/><path d="M535.10,444.30C534.08,447.25 534.88,451.17 533.90,453.70C532.92,456.23 529.78,457.75 529.20,459.50C528.62,461.25 529.42,463.02 530.40,464.20C531.38,465.38 533.83,465.63 535.10,466.60C536.37,467.57 537.80,467.65 538.00,470.00C538.20,472.35 537.37,477.37 536.30,480.70C535.23,484.03 532.38,487.87 531.60,490.00C530.82,492.13 530.82,493.30 531.60,493.50C532.38,493.70 534.35,492.37 536.30,491.20C538.25,490.03 541.35,486.70 543.30,486.50C545.25,486.30 547.02,488.23 548.00,490.00C548.98,491.77 549.40,495.13 549.20,497.10C549.00,499.07 546.62,500.63 546.80,501.80C546.98,502.97 548.77,504.07 550.30,504.10C551.83,504.13 552.38,507.68 556.00,502.00C559.62,496.32 570.50,479.00 572.00,470.00C573.50,461.00 570.33,453.67 565.00,448.00C559.67,442.33 544.98,436.62 540.00,436.00C535.02,435.38 536.12,441.35 535.10,444.30Z" fill="#e6eef8" stroke="#3a3a3a" stroke-width="0.7" stroke-linejoin="round"/><path d="M550.30,465.00C551.33,463.50 554.42,462.83 556.20,463.00C557.98,463.17 560.03,464.50 561.00,466.00C561.97,467.50 562.17,469.67 562.00,472.00C561.83,474.33 561.00,477.83 560.00,480.00C559.00,482.17 557.50,483.83 556.00,485.00C554.50,486.17 552.17,487.83 551.00,487.00C549.83,486.17 549.17,482.50 549.00,480.00C548.83,477.50 549.78,474.50 550.00,472.00C550.22,469.50 549.27,466.50 550.30,465.00Z" fill="#d4effb" stroke="#3a3a3a" stroke-width="0.7" stroke-linejoin="round"/><path d="M533.90,520.50C532.92,518.93 533.73,515.65 535.10,513.50C536.47,511.35 539.75,509.17 542.10,507.60C544.45,506.03 547.05,504.68 549.20,504.10C551.35,503.52 553.25,503.32 555.00,504.10C556.75,504.88 558.52,507.05 559.70,508.80C560.88,510.55 561.32,512.85 562.10,514.60C562.88,516.35 564.80,518.12 564.40,519.30C564.00,520.48 562.05,521.10 559.70,521.70C557.35,522.30 553.42,522.70 550.30,522.90C547.18,523.10 543.73,523.30 541.00,522.90C538.27,522.50 534.88,522.07 533.90,520.50Z" fill="#e6eef8" stroke="#3a3a3a" stroke-width="0.7" stroke-linejoin="round"/><path d="M539.80,518.20C539.80,516.65 543.65,511.97 545.60,510.00C547.55,508.03 549.93,506.80 551.50,506.40C553.07,506.00 554.22,506.62 555.00,507.60C555.78,508.58 556.58,510.73 556.20,512.30C555.82,513.87 554.47,515.83 552.70,517.00C550.93,518.17 547.75,519.10 545.60,519.30C543.45,519.50 539.80,519.75 539.80,518.20Z" fill="#d4effb" stroke="#3a3a3a" stroke-width="0.7" stroke-linejoin="round"/><path d="M319.80,541.60C319.80,540.30 322.32,538.73 323.75,536.90C325.18,535.07 327.09,532.03 328.40,530.60C329.71,529.17 330.55,528.43 331.60,528.30C332.65,528.17 333.93,528.63 334.70,529.80C335.47,530.97 336.12,533.33 336.25,535.30C336.38,537.27 335.89,539.77 335.50,541.60C335.11,543.43 334.82,545.35 333.90,546.25C332.98,547.15 331.69,547.26 330.00,547.00C328.31,546.74 325.45,545.60 323.75,544.70C322.05,543.80 319.80,542.90 319.80,541.60Z" fill="#fc8a8a" stroke="#3a3a3a" stroke-width="0.7" stroke-linejoin="round"/><path d="M269.80,518.10C269.80,518.45 269.68,518.85 269.49,519.15C269.30,519.45 268.98,519.74 268.65,519.92C268.32,520.10 267.88,520.20 267.50,520.20C267.12,520.20 266.68,520.10 266.35,519.92C266.02,519.74 265.70,519.45 265.51,519.15C265.32,518.85 265.20,518.45 265.20,518.10C265.20,517.75 265.32,517.35 265.51,517.05C265.70,516.75 266.02,516.45 266.35,516.28C266.68,516.11 267.12,516.00 267.50,516.00C267.88,516.00 268.32,516.11 268.65,516.28C268.98,516.45 269.30,516.75 269.49,517.05C269.68,517.35 269.80,517.75 269.80,518.10Z" fill="#fdbbbb" stroke="#3a3a3a" stroke-width="0.7" stroke-linejoin="round"/><path d="M261.20,525.20C261.20,525.52 261.07,525.88 260.85,526.15C260.63,526.42 260.27,526.69 259.90,526.85C259.52,527.01 259.03,527.10 258.60,527.10C258.17,527.10 257.68,527.01 257.30,526.85C256.93,526.69 256.57,526.42 256.35,526.15C256.13,525.88 256.00,525.52 256.00,525.20C256.00,524.88 256.13,524.52 256.35,524.25C256.57,523.98 256.93,523.71 257.30,523.55C257.68,523.39 258.17,523.30 258.60,523.30C259.03,523.30 259.52,523.39 259.90,523.55C260.27,523.71 260.63,523.98 260.85,524.25C261.07,524.52 261.20,524.88 261.20,525.20Z" fill="#fdbbbb" stroke="#3a3a3a" stroke-width="0.7" stroke-linejoin="round"/><path d="M340.20,549.10C340.67,547.73 344.93,546.40 347.10,546.40C349.27,546.40 352.18,547.73 353.20,549.10C354.22,550.47 353.77,553.12 353.20,554.60C352.63,556.08 351.28,558.00 349.80,558.00C348.32,558.00 345.90,556.08 344.30,554.60C342.70,553.12 339.73,550.47 340.20,549.10Z" fill="#fc8a8a" stroke="#3a3a3a" stroke-width="0.7" stroke-linejoin="round"/><path d="M343.00,572.40C344.37,570.47 347.30,569.45 349.80,569.00C352.30,568.55 355.72,569.13 358.00,569.70C360.28,570.27 363.05,570.82 363.50,572.40C363.95,573.98 362.07,577.15 360.70,579.20C359.33,581.25 357.57,583.67 355.30,584.70C353.03,585.73 349.38,586.08 347.10,585.40C344.82,584.72 342.28,582.77 341.60,580.60C340.92,578.43 341.63,574.33 343.00,572.40Z" fill="#fc8a8a" stroke="#3a3a3a" stroke-width="0.7" stroke-linejoin="round"/><path d="M453.20,568.30C454.10,567.05 455.70,565.37 457.30,564.90C458.90,564.43 461.77,564.02 462.80,565.50C463.83,566.98 463.95,571.85 463.50,573.80C463.05,575.75 461.58,576.75 460.10,577.20C458.62,577.65 455.97,577.30 454.60,576.50C453.23,575.70 452.13,573.77 451.90,572.40C451.67,571.03 452.30,569.55 453.20,568.30Z" fill="#fc8a8a" stroke="#3a3a3a" stroke-width="0.7" stroke-linejoin="round"/><path d="M415.60,596.90C416.38,596.77 420.53,599.22 423.40,600.00C426.27,600.78 429.67,600.82 432.80,601.60C435.93,602.38 440.63,603.13 442.20,604.70C443.77,606.27 443.50,609.70 442.20,611.00C440.90,612.30 436.75,612.50 434.40,612.50C432.05,612.50 429.67,612.57 428.10,611.00C426.53,609.43 426.56,604.80 425.00,603.10C423.44,601.40 420.32,601.83 418.75,600.80C417.18,599.77 414.83,597.03 415.60,596.90Z" fill="#fc8a8a" stroke="#3a3a3a" stroke-width="0.7" stroke-linejoin="round"/><path d="M480.60,565.50C481.05,563.78 482.88,563.72 484.70,563.50C486.52,563.28 489.00,563.87 491.50,564.20C494.00,564.53 497.65,565.97 499.70,565.50C501.75,565.03 502.43,562.98 503.80,561.40C505.17,559.82 506.53,557.82 507.90,556.00C509.27,554.18 511.53,552.33 512.00,550.50C512.47,548.67 510.23,546.37 510.70,545.00C511.17,543.63 513.22,542.52 514.80,542.30C516.38,542.08 517.93,543.02 520.20,543.70C522.47,544.38 525.67,545.72 528.40,546.40C531.13,547.08 534.08,547.12 536.60,547.80C539.12,548.48 541.67,549.60 543.50,550.50C545.33,551.40 546.02,553.65 547.60,553.20C549.18,552.75 550.72,549.17 553.00,547.80C555.28,546.43 558.42,546.20 561.30,545.00C564.18,543.80 568.02,541.20 570.30,540.60C572.58,540.00 573.83,540.35 575.00,541.40C576.17,542.45 576.78,544.68 577.30,546.90C577.82,549.12 577.44,552.62 578.10,554.70C578.76,556.78 580.98,557.58 581.25,559.40C581.52,561.22 580.74,563.52 579.70,565.60C578.66,567.68 576.57,570.07 575.00,571.90C573.43,573.73 571.60,574.78 570.30,576.60C569.00,578.42 567.46,580.73 567.20,582.80C566.94,584.87 567.72,587.70 568.75,589.00C569.78,590.30 571.84,590.85 573.40,590.60C574.96,590.35 576.53,588.53 578.10,587.50C579.67,586.47 580.98,585.70 582.80,584.40C584.62,583.10 587.17,580.62 589.00,579.70C590.83,578.78 591.92,577.18 593.75,578.90C595.58,580.62 605.62,575.65 600.00,590.00C594.38,604.35 587.50,652.50 560.00,665.00C532.50,677.50 455.75,668.58 435.00,665.00C414.25,661.42 434.97,648.00 435.50,643.50C436.03,639.00 437.30,639.60 438.20,638.00C439.10,636.40 439.77,635.27 440.90,633.90C442.03,632.53 443.63,630.72 445.00,629.80C446.37,628.88 447.50,628.17 449.10,628.40C450.70,628.63 453.00,630.73 454.60,631.20C456.20,631.67 457.33,632.57 458.70,631.20C460.07,629.83 461.88,625.52 462.80,623.00C463.72,620.48 463.28,618.15 464.20,616.10C465.12,614.05 466.93,611.83 468.30,610.70C469.67,609.57 471.27,608.17 472.40,609.30C473.53,610.43 473.97,615.68 475.10,617.50C476.23,619.32 477.83,620.20 479.20,620.20C480.57,620.20 481.93,618.87 483.30,617.50C484.67,616.13 486.25,613.82 487.40,612.00C488.55,610.18 489.73,608.87 490.20,606.60C490.67,604.33 489.98,600.92 490.20,598.40C490.42,595.88 491.50,593.78 491.50,591.50C491.50,589.22 490.88,587.20 490.20,584.70C489.52,582.20 488.77,578.32 487.40,576.50C486.03,574.68 483.13,575.63 482.00,573.80C480.87,571.97 480.15,567.22 480.60,565.50Z" fill="#fc8a8a" stroke="#3a3a3a" stroke-width="0.7" stroke-linejoin="round"/><path d="M510.70,569.70C512.30,569.70 514.37,569.82 515.50,570.50C516.63,571.18 517.50,572.72 517.50,573.80C517.50,574.88 516.63,576.32 515.50,577.00C514.37,577.68 512.30,577.90 510.70,577.90C509.10,577.90 507.03,577.68 505.90,577.00C504.77,576.32 503.90,574.88 503.90,573.80C503.90,572.72 504.77,571.18 505.90,570.50C507.03,569.82 509.10,569.70 510.70,569.70Z" fill="#fdbbbb" stroke="#3a3a3a" stroke-width="0.7" stroke-linejoin="round"/><path d="M540.70,594.30C541.38,592.58 545.55,588.78 547.60,588.10C549.65,587.42 551.63,588.72 553.00,590.20C554.37,591.68 554.42,595.18 555.80,597.00C557.18,598.82 560.85,599.05 561.30,601.10C561.75,603.15 559.65,608.38 558.50,609.30C557.35,610.22 555.77,607.97 554.40,606.60C553.03,605.23 552.12,602.47 550.30,601.10C548.48,599.73 545.10,599.53 543.50,598.40C541.90,597.27 540.02,596.02 540.70,594.30Z" fill="#fdbbbb" stroke="#3a3a3a" stroke-width="0.7" stroke-linejoin="round"/><path d="M494.30,610.70C495.67,608.77 498.15,608.10 501.10,607.30C504.05,606.50 507.90,606.37 512.00,605.90C516.10,605.43 522.85,604.17 525.70,604.50C528.55,604.83 529.33,606.87 529.10,607.90C528.87,608.93 526.68,609.33 524.30,610.70C521.92,612.07 517.75,614.52 514.80,616.10C511.85,617.68 508.88,618.83 506.60,620.20C504.32,621.57 502.93,623.62 501.10,624.30C499.27,624.98 496.97,625.20 495.60,624.30C494.23,623.40 493.12,621.17 492.90,618.90C492.68,616.63 492.93,612.63 494.30,610.70Z" fill="#fdbbbb" stroke="#3a3a3a" stroke-width="0.7" stroke-linejoin="round"/><path d="M528.40,628.40C529.53,626.35 531.38,625.20 533.90,624.30C536.42,623.40 541.68,622.77 543.50,623.00C545.32,623.23 545.48,624.33 544.80,625.70C544.12,627.07 539.40,629.83 539.40,631.20C539.40,632.57 544.12,632.53 544.80,633.90C545.48,635.27 544.40,637.80 543.50,639.40C542.60,641.00 541.00,642.60 539.40,643.50C537.80,644.40 535.73,644.80 533.90,644.80C532.07,644.80 529.53,644.87 528.40,643.50C527.27,642.13 527.10,639.12 527.10,636.60C527.10,634.08 527.27,630.45 528.40,628.40Z" fill="#fdbbbb" stroke="#3a3a3a" stroke-width="0.7" stroke-linejoin="round"/><path d="M567.00,581.00C567.67,580.00 569.17,579.33 570.00,580.00C570.83,580.67 572.17,583.67 572.00,585.00C571.83,586.33 570.00,587.83 569.00,588.00C568.00,588.17 566.33,587.17 566.00,586.00C565.67,584.83 566.33,582.00 567.00,581.00Z" fill="#fdbbbb" stroke="#3a3a3a" stroke-width="0.7" stroke-linejoin="round"/><path d="M480.00,662.00C476.58,660.42 481.12,654.50 482.50,652.50C483.88,650.50 486.18,650.25 488.30,650.00C490.42,649.75 493.08,650.43 495.20,651.00C497.32,651.57 499.70,651.57 501.00,653.40C502.30,655.23 506.50,660.57 503.00,662.00C499.50,663.43 483.42,663.58 480.00,662.00Z" fill="#f96565" stroke="#3a3a3a" stroke-width="0.7" stroke-linejoin="round"/></g><polygon points="130.9,724.4 135,723 137.13,721.66 139.63,721.27 141.9,720.3 146,718.9 148.6,717.34 151.4,716.2 153.56,714.95 155.5,713.4 158.33,712.61 161,711.4 163.65,710.27 166.5,710.7 165.1,708 163.02,706.43 162.4,703.9 159.07,702.6 155.5,702.5 152.1,702.93 148.7,702.5 146.95,700.71 146,698.4 144.58,695.72 141.9,694.3 143.2,690.2 146.64,689.45 150.1,688.8 151.4,686.1 150.59,683.08 148.7,680.6 152.1,677.9 151.71,675.16 151.4,672.4 150.73,670.04 149.02,668.1 148.7,665.6 148.03,663.24 147.52,660.82 146,658.8 143.27,657.36 140.5,656 138.46,654.26 136.13,653 133.7,651.9 131.1,650.4 129.6,647.8 129.36,644.31 128.2,641 129.7,638.32 130.9,635.5 133.49,633.83 136.4,632.8 136.27,629.18 137.8,625.9 140.27,624.71 141.9,622.5 144.63,624.16 147.3,625.9 150.18,625.27 152.8,623.9 156.9,625.3 158.57,627.22 161,628 163.85,627.67 166.5,626.6 169.65,625.54 172,623.2 176.1,621.2 178.87,622.02 181.5,623.2 184.12,624.42 187,624.6 189.73,623.8 192.5,623.2 195.82,624.33 199.3,623.9 202.29,623.49 204.8,621.8 207.5,618.4 206.78,615.45 207.5,612.5 206.6,610.07 206.49,607.55 207.58,604.92 206.39,602.51 206.25,600 210,597.5 212.58,596.78 214.87,595.29 217.5,594.7 220,593.75 222.47,593.23 224.97,592.86 227.52,592.96 230,592.5 232.55,591.7 235.26,591.31 237.62,589.99 240,588.75 241.37,586.44 241.87,583.91 242.73,581.46 242.5,578.75 245.01,578.97 247.48,577.98 250,578.5 253.09,577.35 255.5,575.1 257.55,573.51 258.2,571 260.84,570.26 262.8,568.37 265,566.9 266.74,564.32 267.8,561.4 269.44,558.39 271.9,556 270.27,553.53 267.8,551.9 265.08,551.07 262.3,550.5 259.6,547.8 262.3,545 264.08,542.68 266.4,540.9 265,536.8 261.45,536.92 258.2,535.5 256.51,533.57 254.1,532.7 251.46,531.72 248.75,532.5 246.84,530.33 246.25,527.5 247.2,525.09 246.92,522.47 247.5,520 246.27,517.65 245.89,515.09 246.09,512.38 245,510 244.8,507.29 242.55,505.26 242.5,502.5 241.43,499.91 240,497.5 238.29,494.95 238.5,491.75 236.9,489.16 236.25,486.25 235,482.5 236.86,480.31 238.27,477.89 238.75,475 239.7,472.5 241.47,470.32 241.24,467.38 242.5,465 242.17,462.37 243.51,460.03 243.75,457.5 246.45,457.31 248.75,458.75 250.24,456.49 252.5,455 254.26,453.01 256.25,451.25 260,452.5 262.62,450.78 265,448.75 267.5,447.5 268.93,450.25 269.96,453.11 270,456.25 270.68,458.67 272.79,460.24 273.75,462.5 276.25,465 279.68,464.52 282.5,462.5 285,458.75 287.33,460.07 290,460 292.63,461.7 295,463.75 297.53,464.94 300,466.25 302.47,468.78 305,471.25 307.5,475 307.87,477.56 308.58,480.04 309.27,482.53 310,485 311.49,487.62 312.67,490.44 315,492.5 315.82,495 316.78,497.46 317.5,500 318.4,502.68 320.42,504.79 321.25,507.5 321.92,509.96 321.02,512.61 322.15,515 322.5,517.5 324.99,518 327.64,517.47 330,518.75 332.16,519.87 334.09,521.37 336.25,522.5 339.14,522.98 341.25,525 343.29,522.63 345,520 347.59,519.22 350,518 354.7,517.7 355.88,520.28 355.5,523.1 356.86,520.49 357.8,517.7 362.5,518.4 365.6,521.6 367.98,522.7 370.3,523.9 371.41,521.24 371.9,518.4 375.8,518.4 378.49,517.79 381.25,517.7 384.4,520.8 384.53,523.47 384.98,526.08 385.9,528.6 387.87,526.66 390.6,526.25 392.6,524.38 395.44,524.21 398.02,523.51 400,521.6 404.7,520.8 407.8,521.6 409.95,520 412.5,519.2 414,520.8 413.73,523.54 413.3,526.25 414.8,528.6 417.57,528.37 420.3,527.8 422.8,528.71 425,530.2 428.17,530.48 431.25,531.25 433.57,533.09 435.58,535.25 437.5,537.5 440.6,538.07 443.75,538.3 446.72,536.43 450,535.2 453.1,534.58 456.25,534.4 456.74,531.25 456.25,528.1 455.4,525 456.25,521.9 454.01,519.46 451.6,517.2 449.49,515.25 446.9,514 444.14,513.29 441.45,512.4 439,510.9 437.55,507.89 435.2,505.5 436,502.5 436.83,499.79 438.5,497.5 441.17,497.36 443.69,498.22 446.25,498.75 448.14,495.79 449.4,492.5 448.68,489.38 449.4,486.25 450.68,483.75 452.5,481.6 455.55,480.51 458.75,480 461.9,476.9 463.99,474.02 465,470.6 466.6,466.7 468.88,465.45 471.25,464.4 474.39,462.53 476.7,459.7 479.21,457.95 482.2,457.3 484.42,455.89 486.9,455 490.07,454.46 493.1,453.4 495.66,453.31 497.8,451.9 502.5,451.1 507.2,451.9 507.89,449.52 508.75,447.2 507.49,444.17 507.2,440.9 504,437.8 502.5,436.25 499.94,436.12 497.8,434.7 495.5,432.3 497,428.4 496.25,423.75 499.4,423 504,423.75 507.2,425.3 509.52,426.89 511.9,428.4 514.08,427.12 516.6,426.9 518.61,424.85 519.7,422.2 524.4,421.4 529,421.4 530.6,425.3 531.63,428.72 533.75,431.6 536.25,431.81 538.4,433.1 540,436.25 541.19,439.28 541.6,442.5 542.69,445.15 544.7,447.2 546.91,448.96 549.4,450.3 552.5,450.85 555.6,450.3 558.04,450.84 560.3,451.9 562.45,454.7 563.4,458.1 564.56,461.16 565,464.4 566.11,467 568.1,469 563.4,469 561.37,471.66 558.75,473.75 558.24,476.94 557.2,480 556.4,484.7 554.54,486.37 552.5,487.8 554.18,490.84 555.6,494 556.55,496.32 557.2,498.75 555.68,500.83 555.6,503.4 556.99,505.55 557.2,508.1 560.3,511.25 561.9,514.4 564.19,516.2 565,519 567.09,520.56 569.7,520.6 572.63,522.06 575.9,522.2 577.8,524.35 580.6,525 584.4,527.3 586.77,527.79 588.87,529.28 591.22,529.85 593.75,529.7 596.94,529.6 600,530.5 603.23,530.13 606.25,528.9 609.53,528.69 612.5,527.3 614.98,526.41 617.2,525 621,523.4 621.9,528.1 623.42,531.27 625,534.4 624.2,539 623.22,541.3 621.84,543.35 620.3,545.3 618.3,548 615.6,550 614.7,552.78 612.5,554.7 610.82,556.96 609.4,559.4 610.31,561.92 609.92,564.71 611,567.2 610.08,570.01 607.8,571.9 605.05,572.84 603.1,575 600.82,576.29 598.51,577.53 596.9,579.7 593.58,579.78 590.6,581.25 587.5,582.8 584.91,584.36 583.24,586.83 581.25,589 581.87,591.72 580.31,594.22 580.5,596.9 576.6,597.7 573.47,599.27 570,599.7 567.94,602.02 565.4,603.8 563.74,606.42 562.6,609.3 559.87,611.31 557.2,613.4 554.98,614.9 552.2,615.45 550.3,617.5 548.77,620.16 547.6,623 546.2,625.7 545.78,628.52 544.8,631.2 541.48,632.29 538,632.5 540.59,633.83 543.5,633.9 544.8,638 542.77,639.38 540.7,640.7 538.36,641.68 536.6,643.5 533.91,644.2 531.22,644.9 528.4,644.8 525.42,646.35 522.5,648 518.6,650.5 517.6,653.4 513.7,651 511.14,650.94 508.8,652 506.57,653.27 504,653.4 502,655.4 501.98,658.41 503,661.25 501,661.25 500,658.3 496.1,656.4 493.62,655.89 491.3,656.9 489.3,654.4 485.4,653 482.5,653 479.5,654.4 478.04,656.65 477.6,659.3 474.6,660.3 474.19,657.64 472.7,655.4 470.51,653.69 469.8,651 466.94,649.59 463.9,648.6 462.35,646.58 460,645.6 456.51,646 453.2,644.8 449.98,644.77 446.81,644.35 443.7,643.5 440.69,644.05 437.7,644.7 434.7,642.7 435.7,638.8 435.06,635.92 434.7,633 432.8,630 429.8,628.1 426.9,628.6 423,630 420.56,630.55 418.1,631 415.65,630.5 413.2,631 410.8,631.9 408.4,631 406.4,629.1 404.5,625.2 402.36,623.71 401.5,621.25 398.6,621.25 394.7,621.25 391.8,619.3 390.8,623.2 393.7,625.2 396.6,626.1 394.7,629.1 392.7,631 388.8,630 385.85,630.44 383,629.55 380.1,630.45 377.1,630 374.06,630.32 371.25,629.1 367.3,627.1 368.3,625.2 368.3,621.25 365.79,619.01 362.5,618.3 359,617.91 355.6,618.8 352.95,619.38 350.4,618.46 347.8,618.3 345.2,618.63 342.6,618.63 340,618.3 338.9,617.5 336.08,617.06 333.4,616.1 330.7,613.4 329.3,609.3 326.62,608.34 323.8,607.9 321.06,608.45 318.4,609.3 315.76,610.87 312.9,612 310.48,614.5 307.4,616.1 305.6,619.03 303.3,621.6 301.01,624.19 297.9,625.7 295.56,626.51 293.16,627.14 291,628.4 288.38,630.62 285.5,632.5 284.24,634.86 282.31,636.57 280.1,638 276.7,638.92 273.2,639.4 270.75,640.25 268.25,640.98 266.16,642.67 263.7,643.5 261.57,644.87 260.04,646.84 258.54,648.84 256.7,650.5 254.14,652.73 251.3,654.6 249.26,657.35 247.2,660.1 245.82,662.35 245.23,664.96 243.73,667.16 243,669.7 242.64,672.44 242.59,675.24 241.7,677.9 241.46,680.62 241,683.33 241.94,686.12 241,688.8 241.02,691.32 240.9,693.84 239.97,696.32 239.75,698.83 240.64,701.39 240.3,703.9 239.82,706.47 240.25,708.95 241.43,711.36 241.3,713.89 242.14,716.34 241.7,718.9 241.8,722.41 243,725.7 245.62,727.36 248.5,728.5 248.79,731.03 249.88,733.23 251.3,735.3 248.5,736.7 245.82,735.71 243,735.3 240.4,734.24 237.6,734 234.86,733.54 232.1,733.3 229.51,734.65 226.6,734.6 223.8,736.52 221.2,738.7 218.77,740.58 215.7,740.8 213.23,742.73 210.2,743.5 208.9,747.6 205.49,746.81 202,747 199.49,748.45 196.6,748.3 193.53,747.61 191.1,745.6 188.51,745.11 186.87,742.72 184.3,742.2 181.83,742.05 179.45,741.62 177.4,740.1 174.85,738.8 172,738.7 169.34,739.73 166.5,739.4 163.47,740.25 161,742.2 158.06,744 155.5,746.3 151.4,744.9 151.34,742.01 150.1,739.4 148.63,736.77 146,735.3 141.9,734 139.21,732.47 136.4,731.2 133.47,729.98 130.3,729.8 129.77,727.01" fill="none" stroke="#111" stroke-width="1.5" stroke-linejoin="round" /><polygon points="404.5,605.6 406.4,607.6 408.4,609.5 413.2,609.5 414.2,615.4 418.1,613.4 421,612.5 423,615.4 420.1,618.3 416.2,622.2 411.3,623.2 409.3,619.3 407.4,616.4 404.5,613.4" fill="#fff" stroke="#111" stroke-width="1.2" stroke-linejoin="round" /><polygon points="389.8,515.3 393,509.1 396.9,505.9 401.6,507.5 406.25,511.4 401.6,514.5 400,520 393.75,520 390.6,516.9" fill="#fdbbbb" stroke="#111" stroke-width="1.3" stroke-linejoin="round" /><polygon points="504.5,664 507,662.6 510.5,662.8 511,664.5 508,666 505,665.8" fill="#fc8a8a" stroke="#111" stroke-width="1.2" stroke-linejoin="round" /><polygon points="521,663.5 525,661 529,659 532,658.5 531.5,660.5 527,662.8 523,664.8" fill="#fc8a8a" stroke="#111" stroke-width="1.2" stroke-linejoin="round" /><polygon points="573,601 575.5,600.3 576,602 573.5,602.5" fill="#fc8a8a" stroke="#111" stroke-width="1.2" stroke-linejoin="round" /><g clip-path="url(#cc)"><polygon points="770.3,646.8 773,645.6 776.2,645.4 780.1,647.3 780.31,650.05 781.1,652.7 781.17,655.12 781.68,657.42 783,659.5 782.28,662.24 783.1,664.77 784,667.3 782.66,669.45 784.45,672.06 783,674.2 782.92,676.47 781.61,678.66 782.5,681 782.9,684.04 784,686.9 785.27,689.53 787.9,690.8 790.15,692.78 790.8,695.7 791.21,697.96 792.07,700.14 791.8,702.5 791.69,705.45 791.8,708.4 791.96,710.69 793.62,712.76 792.8,715.2 794.16,717.99 794.2,721.1 795.22,723.25 794.22,725.85 795.7,727.9 795.32,730.41 797.01,732.72 795.74,735.32 796.7,737.7 796.9,741.2 797.51,743.83 796.4,746.3 794.79,748.56 794.45,751.54 792.3,753.5 791.97,756.46 788.79,757.79 788.2,760.6 788.21,763.19 787.52,765.58 786.2,767.8 785.04,770.53 785.31,773.27 786.2,776 787.03,778.33 785.77,780.95 787.2,783.2 787.44,785.61 787.44,788.06 788.2,790.4 788.4,793.56 787.2,796.5 785.17,798.7 785.1,801.7 782.1,804.7 782.69,806.95 784.1,808.8 781.59,810.83 781,814 779.73,816.27 780.81,818.87 780,821.2 779.32,824.35 778,827.3 778.8,829.85 778,832.4 774.9,834.5 770.8,833.5 768.24,832.63 766.7,830.4 764.32,828.98 763.6,826.3 760.87,825.69 758.5,824.2 756.17,823.29 753.38,824.02 751.3,822.2 749.42,820.78 746.99,820.48 745.1,819.1 742.77,817.91 741,816 739.49,813.41 736.9,811.9 737.35,809.34 737.9,806.8 740.42,805.87 743.1,805.8 744.61,803.72 746.2,801.7 744.1,799.6 741.64,798.62 739,798.6 736,798.54 733.8,796.5 731.47,794.88 728.7,795.5 724.6,794.5 725.84,791.64 728.7,790.4 729.7,786.3 731.73,784.61 732.8,782.2 733.63,779.1 732.8,776 730.8,774 726.7,775 724.62,776.81 721.71,775.74 719.5,777.1 718.5,773 716.4,770.9 718.3,769.56 720.5,768.8 721.72,766.84 722.6,764.7 723.82,761.82 726.7,760.6 724.68,759.05 724.6,756.5 722.1,755.62 720.5,753.5 718.37,751.44 715.4,751.4 713.3,748.3 711.62,746.02 711.3,743.2 710.3,739.6 713.02,739.44 715.4,738.1 717.6,736.2 720.1,735.85 721.5,733.75 722.5,730.8 720.43,728.86 717.6,728.9 715.08,728.77 712.7,727.9 709.8,725.9 709.8,723 711.5,720.8 713.7,719.1 716.6,716.2 717.6,712.3 718.16,709.86 718.6,707.4 720.5,703.5 722.5,699.6 724.9,700.26 727.3,699.6 728.3,696.2 730.32,694.11 733.2,693.7 737.1,691.8 740.24,691.36 743,689.8 746.12,689.53 748.8,687.9 749.8,684.9 751.8,681 754.59,680.57 756.6,678.6 760.5,678.6 764.5,680 767.4,683 770.3,683 772.3,679.1 771.02,676.88 773.03,674.42 771.8,672.2 769.89,670.12 769.8,667.3 769.67,664.86 770.3,662.5 769.3,658.6 770.06,655.69 770.3,652.7 771.3,649.75" fill="#f96565" /><path d="M700.00,739.00C702.73,755.52 712.98,738.23 716.40,739.10C719.82,739.97 718.45,742.48 720.50,744.20C722.55,745.92 726.48,747.85 728.70,749.40C730.92,750.95 732.08,751.97 733.80,753.50C735.52,755.03 737.45,756.73 739.00,758.60C740.55,760.47 742.08,762.65 743.10,764.70C744.12,766.75 745.10,768.83 745.10,770.90C745.10,772.97 744.12,775.57 743.10,777.10C742.08,778.63 740.03,778.92 739.00,780.10C737.97,781.28 736.90,782.83 736.90,784.20C736.90,785.57 737.63,787.27 739.00,788.30C740.37,789.33 743.40,789.53 745.10,790.40C746.80,791.27 747.83,791.97 749.20,793.50C750.57,795.03 751.93,797.38 753.30,799.60C754.67,801.82 756.03,804.57 757.40,806.80C758.77,809.03 760.13,812.32 761.50,813.00C762.87,813.68 764.23,812.28 765.60,810.90C766.97,809.52 768.83,806.92 769.70,804.70C770.57,802.48 771.13,799.47 770.80,797.60C770.47,795.73 769.07,795.05 767.70,793.50C766.33,791.95 763.97,790.02 762.60,788.30C761.23,786.58 760.18,785.25 759.50,783.20C758.82,781.15 758.58,778.57 758.50,776.00C758.42,773.43 758.67,769.68 759.00,767.80C759.33,765.92 759.82,765.03 760.50,764.70C761.18,764.37 762.58,764.60 763.10,765.80C763.62,767.00 763.18,770.02 763.60,771.90C764.02,773.78 764.58,775.90 765.60,777.10C766.62,778.30 768.33,779.28 769.70,779.10C771.07,778.92 772.77,777.72 773.80,776.00C774.83,774.28 775.55,771.37 775.90,768.80C776.25,766.23 776.07,763.67 775.90,760.60C775.73,757.53 774.90,753.13 774.90,750.40C774.90,747.67 775.40,745.92 775.90,744.20C776.40,742.48 776.87,740.27 777.90,740.10C778.93,739.93 780.22,742.33 782.10,743.20C783.98,744.07 786.98,744.78 789.20,745.30C791.42,745.82 793.60,746.18 795.40,746.30C797.20,746.42 799.23,763.72 800.00,746.00C800.77,728.28 816.67,657.67 800.00,640.00C783.33,622.33 716.67,623.50 700.00,640.00C683.33,656.50 697.27,722.48 700.00,739.00Z" fill="#fc8a8a" stroke="#3a3a3a" stroke-width="0.7" stroke-linejoin="round"/><path d="M760.50,688.80C761.15,688.00 764.43,687.73 766.40,687.90C768.37,688.07 770.35,689.32 772.30,689.80C774.25,690.28 776.63,691.28 778.10,690.80C779.57,690.32 780.45,688.20 781.10,686.90C781.75,685.60 778.85,683.65 782.00,683.00C785.15,682.35 797.00,673.17 800.00,683.00C803.00,692.83 800.57,732.38 800.00,742.00C799.43,751.62 798.53,741.25 796.60,740.70C794.67,740.15 791.13,739.38 788.40,738.70C785.67,738.02 782.25,736.27 780.20,736.60C778.15,736.93 777.47,739.67 776.10,740.70C774.73,741.73 774.05,743.13 772.00,742.80C769.95,742.47 765.85,739.73 763.80,738.70C761.75,737.67 761.40,736.27 759.70,736.60C758.00,736.93 755.65,740.35 753.60,740.70C751.55,741.05 748.35,739.20 747.40,738.70C746.45,738.20 747.17,738.20 747.90,737.70C748.63,737.20 750.50,736.68 751.80,735.70C753.10,734.72 754.90,733.75 755.70,731.80C756.50,729.85 756.45,726.60 756.60,724.00C756.75,721.40 756.60,718.80 756.60,716.20C756.60,713.60 756.27,710.52 756.60,708.40C756.93,706.28 757.62,704.82 758.60,703.50C759.58,702.18 761.52,701.65 762.50,700.50C763.48,699.35 764.50,697.90 764.50,696.60C764.50,695.30 763.17,694.00 762.50,692.70C761.83,691.40 759.85,689.60 760.50,688.80Z" fill="#fdbbbb" stroke="#3a3a3a" stroke-width="0.7" stroke-linejoin="round"/><path d="M767.40,702.50C768.45,700.77 770.52,698.90 772.30,697.60C774.08,696.30 776.32,695.67 778.10,694.70C779.88,693.73 781.02,692.58 783.00,691.80C784.98,691.02 787.17,688.63 790.00,690.00C792.83,691.37 798.33,691.67 800.00,700.00C801.67,708.33 802.02,733.88 800.00,740.00C797.98,746.12 790.40,738.07 787.90,736.70C785.40,735.33 785.98,733.58 785.00,731.80C784.02,730.02 782.65,727.95 782.00,726.00C781.35,724.05 781.42,722.07 781.10,720.10C780.78,718.13 780.92,715.50 780.10,714.20C779.28,712.90 778.15,712.62 776.20,712.30C774.25,711.98 770.10,713.02 768.40,712.30C766.70,711.58 766.17,709.63 766.00,708.00C765.83,706.37 766.35,704.23 767.40,702.50Z" fill="#fed3d3" stroke="#3a3a3a" stroke-width="0.7" stroke-linejoin="round"/><path d="M769.00,661.50C769.67,660.25 771.67,660.92 774.00,662.50C776.33,664.08 781.50,668.83 783.00,671.00C784.50,673.17 784.83,674.50 783.00,675.50C781.17,676.50 774.17,677.92 772.00,677.00C769.83,676.08 770.50,672.58 770.00,670.00C769.50,667.42 768.33,662.75 769.00,661.50Z" fill="#fdbbbb" stroke="#3a3a3a" stroke-width="0.7" stroke-linejoin="round"/><path d="M766.00,738.00C766.00,737.25 767.67,736.00 768.50,736.00C769.33,736.00 771.00,737.25 771.00,738.00C771.00,738.75 769.33,740.50 768.50,740.50C767.67,740.50 766.00,738.75 766.00,738.00Z" fill="#fdbbbb" stroke="#3a3a3a" stroke-width="0.7" stroke-linejoin="round"/><path d="M795.40,747.30C793.60,748.37 790.92,750.68 789.20,752.40C787.48,754.12 785.95,755.72 785.10,757.60C784.25,759.48 784.10,761.83 784.10,763.70C784.10,765.57 784.75,767.42 785.10,768.80C785.45,770.18 783.72,771.47 786.20,772.00C788.68,772.53 797.70,776.33 800.00,772.00C802.30,767.67 800.77,750.12 800.00,746.00C799.23,741.88 797.20,746.23 795.40,747.30Z" fill="#f13d3d" stroke="#3a3a3a" stroke-width="0.7" stroke-linejoin="round"/><path d="M730.00,806.00C731.15,800.47 734.72,806.33 736.90,806.80C739.08,807.27 741.05,807.77 743.10,808.80C745.15,809.83 747.15,811.63 749.20,813.00C751.25,814.37 753.17,816.15 755.40,817.00C757.63,817.85 760.55,818.27 762.60,818.10C764.65,817.93 766.00,817.20 767.70,816.00C769.40,814.80 771.27,813.12 772.80,810.90C774.33,808.68 775.70,805.10 776.90,802.70C778.10,800.30 778.97,798.38 780.00,796.50C781.03,794.62 782.07,793.10 783.10,791.40C784.13,789.70 783.38,787.37 786.20,786.30C789.02,785.23 797.70,776.05 800.00,785.00C802.30,793.95 811.67,830.83 800.00,840.00C788.33,849.17 741.67,845.67 730.00,840.00C718.33,834.33 728.85,811.53 730.00,806.00Z" fill="#f13d3d" stroke="#3a3a3a" stroke-width="0.7" stroke-linejoin="round"/><path d="M739.80,772.00C739.80,772.25 739.71,772.53 739.56,772.75C739.41,772.97 739.16,773.17 738.90,773.30C738.64,773.42 738.30,773.50 738.00,773.50C737.70,773.50 737.36,773.42 737.10,773.30C736.84,773.17 736.59,772.97 736.44,772.75C736.29,772.53 736.20,772.25 736.20,772.00C736.20,771.75 736.29,771.47 736.44,771.25C736.59,771.03 736.84,770.83 737.10,770.70C737.36,770.58 737.70,770.50 738.00,770.50C738.30,770.50 738.64,770.58 738.90,770.70C739.16,770.83 739.41,771.03 739.56,771.25C739.71,771.47 739.80,771.75 739.80,772.00Z" fill="#f96565" stroke="#3a3a3a" stroke-width="0.7" stroke-linejoin="round"/><path d="M723.92,730.87C723.84,731.30 723.51,731.73 723.04,732.03C722.56,732.33 721.82,732.56 721.07,732.65C720.32,732.74 719.37,732.70 718.55,732.56C717.73,732.41 716.82,732.12 716.15,731.78C715.48,731.44 714.86,730.97 714.51,730.53C714.16,730.09 714.00,729.56 714.08,729.13C714.16,728.70 714.49,728.27 714.96,727.97C715.44,727.67 716.18,727.44 716.93,727.35C717.68,727.26 718.63,727.30 719.45,727.44C720.27,727.59 721.18,727.88 721.85,728.22C722.52,728.56 723.14,729.03 723.49,729.47C723.84,729.91 724.00,730.44 723.92,730.87Z" fill="#f96565" stroke="#3a3a3a" stroke-width="0.7" stroke-linejoin="round"/><path d="M738.90,698.10C738.90,698.33 738.81,698.60 738.66,698.80C738.51,699.00 738.26,699.19 738.00,699.31C737.74,699.43 737.40,699.50 737.10,699.50C736.80,699.50 736.46,699.43 736.20,699.31C735.94,699.19 735.69,699.00 735.54,698.80C735.39,698.60 735.30,698.33 735.30,698.10C735.30,697.87 735.39,697.60 735.54,697.40C735.69,697.20 735.94,697.01 736.20,696.89C736.46,696.77 736.80,696.70 737.10,696.70C737.40,696.70 737.74,696.77 738.00,696.89C738.26,697.01 738.51,697.20 738.66,697.40C738.81,697.60 738.90,697.87 738.90,698.10Z" fill="#f96565" stroke="#3a3a3a" stroke-width="0.7" stroke-linejoin="round"/></g><polygon points="770.3,646.8 773,645.6 776.2,645.4 780.1,647.3 780.31,650.05 781.1,652.7 781.17,655.12 781.68,657.42 783,659.5 782.28,662.24 783.1,664.77 784,667.3 782.66,669.45 784.45,672.06 783,674.2 782.92,676.47 781.61,678.66 782.5,681 782.9,684.04 784,686.9 785.27,689.53 787.9,690.8 790.15,692.78 790.8,695.7 791.21,697.96 792.07,700.14 791.8,702.5 791.69,705.45 791.8,708.4 791.96,710.69 793.62,712.76 792.8,715.2 794.16,717.99 794.2,721.1 795.22,723.25 794.22,725.85 795.7,727.9 795.32,730.41 797.01,732.72 795.74,735.32 796.7,737.7 796.9,741.2 797.51,743.83 796.4,746.3 794.79,748.56 794.45,751.54 792.3,753.5 791.97,756.46 788.79,757.79 788.2,760.6 788.21,763.19 787.52,765.58 786.2,767.8 785.04,770.53 785.31,773.27 786.2,776 787.03,778.33 785.77,780.95 787.2,783.2 787.44,785.61 787.44,788.06 788.2,790.4 788.4,793.56 787.2,796.5 785.17,798.7 785.1,801.7 782.1,804.7 782.69,806.95 784.1,808.8 781.59,810.83 781,814 779.73,816.27 780.81,818.87 780,821.2 779.32,824.35 778,827.3 778.8,829.85 778,832.4 774.9,834.5 770.8,833.5 768.24,832.63 766.7,830.4 764.32,828.98 763.6,826.3 760.87,825.69 758.5,824.2 756.17,823.29 753.38,824.02 751.3,822.2 749.42,820.78 746.99,820.48 745.1,819.1 742.77,817.91 741,816 739.49,813.41 736.9,811.9 737.35,809.34 737.9,806.8 740.42,805.87 743.1,805.8 744.61,803.72 746.2,801.7 744.1,799.6 741.64,798.62 739,798.6 736,798.54 733.8,796.5 731.47,794.88 728.7,795.5 724.6,794.5 725.84,791.64 728.7,790.4 729.7,786.3 731.73,784.61 732.8,782.2 733.63,779.1 732.8,776 730.8,774 726.7,775 724.62,776.81 721.71,775.74 719.5,777.1 718.5,773 716.4,770.9 718.3,769.56 720.5,768.8 721.72,766.84 722.6,764.7 723.82,761.82 726.7,760.6 724.68,759.05 724.6,756.5 722.1,755.62 720.5,753.5 718.37,751.44 715.4,751.4 713.3,748.3 711.62,746.02 711.3,743.2 710.3,739.6 713.02,739.44 715.4,738.1 717.6,736.2 720.1,735.85 721.5,733.75 722.5,730.8 720.43,728.86 717.6,728.9 715.08,728.77 712.7,727.9 709.8,725.9 709.8,723 711.5,720.8 713.7,719.1 716.6,716.2 717.6,712.3 718.16,709.86 718.6,707.4 720.5,703.5 722.5,699.6 724.9,700.26 727.3,699.6 728.3,696.2 730.32,694.11 733.2,693.7 737.1,691.8 740.24,691.36 743,689.8 746.12,689.53 748.8,687.9 749.8,684.9 751.8,681 754.59,680.57 756.6,678.6 760.5,678.6 764.5,680 767.4,683 770.3,683 772.3,679.1 771.02,676.88 773.03,674.42 771.8,672.2 769.89,670.12 769.8,667.3 769.67,664.86 770.3,662.5 769.3,658.6 770.06,655.69 770.3,652.7 771.3,649.75" fill="none" stroke="#111" stroke-width="1.5" stroke-linejoin="round" /><text x="116" y="457.5" text-anchor="middle" font-size="8.5" fill="#9c9090" transform="rotate(0 116 454.5)">−20</text><text x="197.5" y="457.4" text-anchor="middle" font-size="8.5" fill="#9c9090" transform="rotate(40 197.5 454.4)">20</text><text x="226" y="435.5" text-anchor="middle" font-size="8.5" fill="#9c9090" transform="rotate(-45 226 432.5)">−30</text><text x="260.5" y="444" text-anchor="middle" font-size="8.5" fill="#9c9090" transform="rotate(20 260.5 441)">−30</text><text x="183.75" y="490" text-anchor="middle" font-size="8.5" fill="#9c9090" transform="rotate(0 183.75 487)">−20</text><text x="212.5" y="519.5" text-anchor="middle" font-size="8.5" fill="#9c9090" transform="rotate(0 212.5 516.5)">−30</text><text x="325" y="462" text-anchor="middle" font-size="8.5" fill="#9c9090" transform="rotate(0 325 459)">−20</text><text x="342.5" y="453" text-anchor="middle" font-size="8.5" fill="#9c9090" transform="rotate(0 342.5 450)">−20</text><text x="346" y="437" text-anchor="middle" font-size="8.5" fill="#9c9090" transform="rotate(-60 346 434)">20</text><text x="435" y="466.75" text-anchor="middle" font-size="8.5" fill="#9c9090" transform="rotate(60 435 463.75)">−10</text><text x="448.5" y="465.5" text-anchor="middle" font-size="8.5" fill="#9c9090" transform="rotate(45 448.5 462.5)">−10</text><text x="150" y="713" text-anchor="middle" font-size="8.5" fill="#9c9090" transform="rotate(-15 150 710)">−10</text><text x="265" y="468" text-anchor="middle" font-size="8.5" fill="#2a2a2a" transform="rotate(35 265 465)">−20</text><text x="249" y="520.5" text-anchor="middle" font-size="8.5" fill="#2a2a2a" transform="rotate(90 249 517.5)">20</text><text x="287" y="530.5" text-anchor="middle" font-size="8.5" fill="#2a2a2a" transform="rotate(90 287 527.5)">−20</text><text x="338" y="544" text-anchor="middle" font-size="8.5" fill="#2a2a2a" transform="rotate(80 338 541)">−30</text><text x="188" y="635.5" text-anchor="middle" font-size="8.5" fill="#2a2a2a" transform="rotate(-15 188 632.5)">−30</text><text x="516" y="498" text-anchor="middle" font-size="8.5" fill="#2a2a2a" transform="rotate(30 516 495)">−20</text><text x="539" y="470.5" text-anchor="middle" font-size="8.5" fill="#2a2a2a" transform="rotate(-70 539 467.5)">−10</text><text x="596" y="542" text-anchor="middle" font-size="8.5" fill="#2a2a2a" transform="rotate(20 596 539)">−10</text><text x="491" y="581.75" text-anchor="middle" font-size="8.5" fill="#2a2a2a" transform="rotate(80 491 578.75)">−30</text><text x="435.75" y="604.25" text-anchor="middle" font-size="8.5" fill="#2a2a2a" transform="rotate(0 435.75 601.25)">−30</text><text x="368.5" y="585.5" text-anchor="middle" font-size="8.5" fill="#2a2a2a" transform="rotate(90 368.5 582.5)">−20</text><text x="358" y="578" text-anchor="middle" font-size="8.5" fill="#2a2a2a" transform="rotate(-75 358 575)">−30</text><text x="377" y="611.5" text-anchor="middle" font-size="8.5" fill="#2a2a2a" transform="rotate(-15 377 608.5)">−10</text><text x="558.75" y="604" text-anchor="middle" font-size="8.5" fill="#2a2a2a" transform="rotate(80 558.75 601)">−30</text><text x="517.9" y="618" text-anchor="middle" font-size="8.5" fill="#2a2a2a" transform="rotate(-30 517.9 615)">−30</text><text x="519.1" y="651.75" text-anchor="middle" font-size="8.5" fill="#2a2a2a" transform="rotate(-20 519.1 648.75)">−30</text><text x="762.5" y="715.5" text-anchor="middle" font-size="8.5" fill="#2a2a2a" transform="rotate(-75 762.5 712.5)">−20</text><text x="743" y="814" text-anchor="middle" font-size="8.5" fill="#2a2a2a" transform="rotate(-70 743 811)">−50</text><text x="783" y="781" text-anchor="middle" font-size="8.5" fill="#2a2a2a" transform="rotate(-80 783 778)">−50</text>
<rect x="865" y="330.60" width="21" height="28.90" fill="#1f64f8"/><rect x="865" y="359.20" width="21" height="28.90" fill="#3484f6"/><rect x="865" y="387.80" width="21" height="28.90" fill="#4a9ff5"/><rect x="865" y="416.40" width="21" height="28.90" fill="#62bdf8"/><rect x="865" y="445.00" width="21" height="28.90" fill="#78d1fa"/><rect x="865" y="473.60" width="21" height="28.90" fill="#97d8f8"/><rect x="865" y="502.20" width="21" height="28.90" fill="#b3e2f8"/><rect x="865" y="530.80" width="21" height="28.90" fill="#d4effb"/><rect x="865" y="559.40" width="21" height="28.90" fill="#e6eef8"/><rect x="865" y="588.00" width="21" height="28.90" fill="#fde6e6"/><rect x="865" y="616.60" width="21" height="28.90" fill="#fed3d3"/><rect x="865" y="645.20" width="21" height="28.90" fill="#fdbbbb"/><rect x="865" y="673.80" width="21" height="28.90" fill="#fc8a8a"/><rect x="865" y="702.40" width="21" height="28.90" fill="#f96565"/><rect x="865" y="731.00" width="21" height="28.90" fill="#f13d3d"/><rect x="865" y="759.60" width="21" height="28.90" fill="#e5161e"/><rect x="865" y="788.20" width="21" height="28.90" fill="#cc0b13"/><rect x="865" y="816.80" width="21" height="28.90" fill="#aa030a"/><line x1="886" y1="330.60" x2="897" y2="330.60" stroke="#333" stroke-width="1"/><text x="922" y="334.00" text-anchor="end" font-size="9" fill="#333">90</text><line x1="865" y1="359.20" x2="886" y2="359.20" stroke="#333" stroke-width="0.8"/><line x1="886" y1="359.20" x2="897" y2="359.20" stroke="#333" stroke-width="1"/><text x="922" y="362.60" text-anchor="end" font-size="9" fill="#333">80</text><line x1="865" y1="387.80" x2="886" y2="387.80" stroke="#333" stroke-width="0.8"/><line x1="886" y1="387.80" x2="897" y2="387.80" stroke="#333" stroke-width="1"/><text x="922" y="391.20" text-anchor="end" font-size="9" fill="#333">70</text><line x1="865" y1="416.40" x2="886" y2="416.40" stroke="#333" stroke-width="0.8"/><line x1="886" y1="416.40" x2="897" y2="416.40" stroke="#333" stroke-width="1"/><text x="922" y="419.80" text-anchor="end" font-size="9" fill="#333">60</text><line x1="865" y1="445.00" x2="886" y2="445.00" stroke="#333" stroke-width="0.8"/><line x1="886" y1="445.00" x2="897" y2="445.00" stroke="#333" stroke-width="1"/><text x="922" y="448.40" text-anchor="end" font-size="9" fill="#333">50</text><line x1="865" y1="473.60" x2="886" y2="473.60" stroke="#333" stroke-width="0.8"/><line x1="886" y1="473.60" x2="897" y2="473.60" stroke="#333" stroke-width="1"/><text x="922" y="477.00" text-anchor="end" font-size="9" fill="#333">40</text><line x1="865" y1="502.20" x2="886" y2="502.20" stroke="#333" stroke-width="0.8"/><line x1="886" y1="502.20" x2="897" y2="502.20" stroke="#333" stroke-width="1"/><text x="922" y="505.60" text-anchor="end" font-size="9" fill="#333">30</text><line x1="865" y1="530.80" x2="886" y2="530.80" stroke="#333" stroke-width="0.8"/><line x1="886" y1="530.80" x2="897" y2="530.80" stroke="#333" stroke-width="1"/><text x="922" y="534.20" text-anchor="end" font-size="9" fill="#333">20</text><line x1="865" y1="559.40" x2="886" y2="559.40" stroke="#333" stroke-width="0.8"/><line x1="886" y1="559.40" x2="897" y2="559.40" stroke="#333" stroke-width="1"/><text x="922" y="562.80" text-anchor="end" font-size="9" fill="#333">10</text><line x1="865" y1="588.00" x2="886" y2="588.00" stroke="#333" stroke-width="0.8"/><line x1="886" y1="588.00" x2="897" y2="588.00" stroke="#333" stroke-width="1"/><text x="922" y="591.40" text-anchor="end" font-size="9" fill="#333">0</text><line x1="865" y1="616.60" x2="886" y2="616.60" stroke="#333" stroke-width="0.8"/><line x1="886" y1="616.60" x2="897" y2="616.60" stroke="#333" stroke-width="1"/><text x="922" y="620.00" text-anchor="end" font-size="9" fill="#333">−10</text><line x1="865" y1="645.20" x2="886" y2="645.20" stroke="#333" stroke-width="0.8"/><line x1="886" y1="645.20" x2="897" y2="645.20" stroke="#333" stroke-width="1"/><text x="922" y="648.60" text-anchor="end" font-size="9" fill="#333">−20</text><line x1="865" y1="673.80" x2="886" y2="673.80" stroke="#333" stroke-width="0.8"/><line x1="886" y1="673.80" x2="897" y2="673.80" stroke="#333" stroke-width="1"/><text x="922" y="677.20" text-anchor="end" font-size="9" fill="#333">−30</text><line x1="865" y1="702.40" x2="886" y2="702.40" stroke="#333" stroke-width="0.8"/><line x1="886" y1="702.40" x2="897" y2="702.40" stroke="#333" stroke-width="1"/><text x="922" y="705.80" text-anchor="end" font-size="9" fill="#333">−40</text><line x1="865" y1="731.00" x2="886" y2="731.00" stroke="#333" stroke-width="0.8"/><line x1="886" y1="731.00" x2="897" y2="731.00" stroke="#333" stroke-width="1"/><text x="922" y="734.40" text-anchor="end" font-size="9" fill="#333">−50</text><line x1="865" y1="759.60" x2="886" y2="759.60" stroke="#333" stroke-width="0.8"/><line x1="886" y1="759.60" x2="897" y2="759.60" stroke="#333" stroke-width="1"/><text x="922" y="763.00" text-anchor="end" font-size="9" fill="#333">−60</text><line x1="865" y1="788.20" x2="886" y2="788.20" stroke="#333" stroke-width="0.8"/><line x1="886" y1="788.20" x2="897" y2="788.20" stroke="#333" stroke-width="1"/><text x="922" y="791.60" text-anchor="end" font-size="9" fill="#333">−70</text><line x1="865" y1="816.80" x2="886" y2="816.80" stroke="#333" stroke-width="0.8"/><line x1="886" y1="816.80" x2="897" y2="816.80" stroke="#333" stroke-width="1"/><text x="922" y="820.20" text-anchor="end" font-size="9" fill="#333">−80</text><line x1="886" y1="845.40" x2="897" y2="845.40" stroke="#333" stroke-width="1"/><text x="922" y="848.80" text-anchor="end" font-size="9" fill="#333">−90</text><polygon points="864,330.6 875.5,319.1 887,330.6" fill="#1f5ef0" stroke="#000" stroke-width="2" stroke-linejoin="miter"/><polygon points="864,845.4000000000001 875.5,857.4000000000001 887,845.4000000000001" fill="#8a0a0a" stroke="#000" stroke-width="2" stroke-linejoin="miter"/><rect x="865" y="330.6" width="21" height="514.8000000000001" fill="none" stroke="#000" stroke-width="2"/><text x="875.3" y="309.3" text-anchor="middle" font-size="8.6" fill="#333">%</text>
<rect x="55" y="949" width="54" height="53" fill="#0b5297"/>
<rect x="74.8" y="958.3" width="14.2" height="14.6" rx="1.6" fill="#fff"/>
<path d="M82,960.8 A5,5 0 0 0 82,970.8 Z" fill="#0b5297"/>
<path d="M82.4,960.9 A4.9,4.9 0 0 1 82.4,970.7" fill="none" stroke="#3a78b0" stroke-width="0.7"/>
<rect x="81.9" y="958.3" width="0.9" height="14.6" fill="#3a78b0"/>
<circle cx="85.3" cy="962.4" r="0.9" fill="#0b5297"/>
<text x="65.4" y="983.4" font-size="9" font-weight="bold" fill="#fff" textLength="33.2" lengthAdjust="spacingAndGlyphs">METEO</text>
<text x="65" y="992" font-size="9" font-weight="bold" fill="#fff" textLength="33.8" lengthAdjust="spacingAndGlyphs">FRANCE</text>
<text x="938" y="977.8" text-anchor="end" font-size="16" letter-spacing="-0.155" fill="#111">Edité le : 26/04/2019 - Données du : 04/04/2019 à 10:45 UTC</text>
</svg>
</body></html>
